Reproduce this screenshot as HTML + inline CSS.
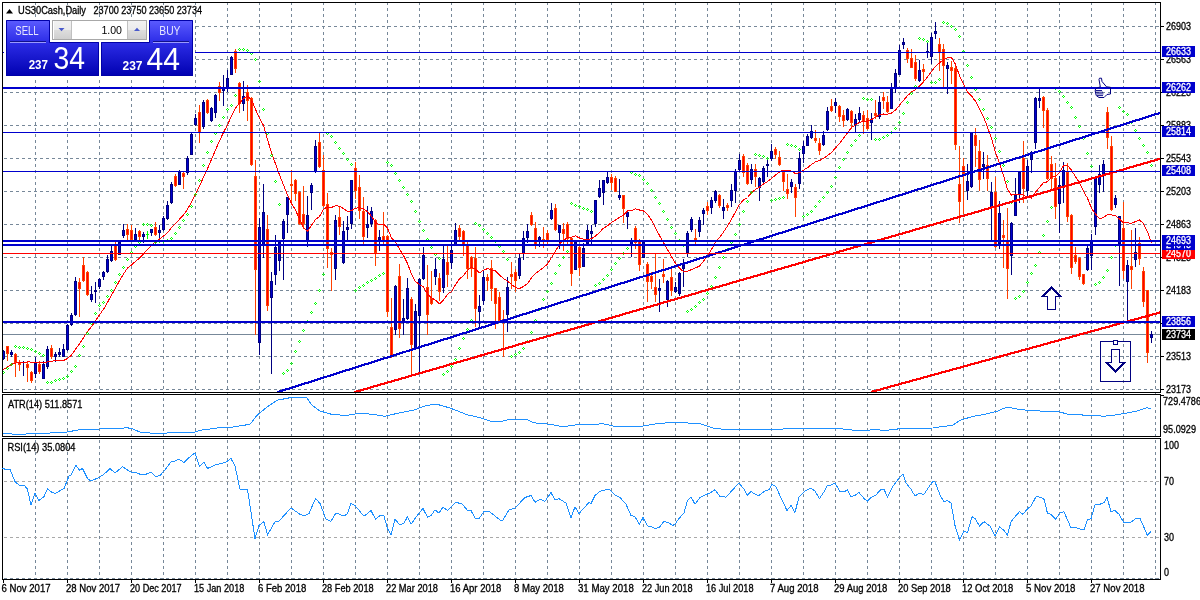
<!DOCTYPE html>
<html><head><meta charset="utf-8"><title>US30Cash,Daily</title>
<style>
html,body{margin:0;padding:0;background:#fff;width:1200px;height:600px;overflow:hidden}
.wrap{position:relative;width:1200px;height:600px}
svg.main{position:absolute;left:0;top:0}
svg.ov{position:absolute;left:0;top:0}
</style></head><body><div class="wrap">
<svg class="main" width="1200" height="600" viewBox="0 0 1200 600" shape-rendering="crispEdges">
<rect x="0" y="0" width="1200" height="600" fill="#fff"/>
<line x1="35.5" y1="2" x2="35.5" y2="579" stroke="#778899" stroke-width="1" stroke-dasharray="3 3"/>
<line x1="67.5" y1="2" x2="67.5" y2="579" stroke="#778899" stroke-width="1" stroke-dasharray="3 3"/>
<line x1="99.5" y1="2" x2="99.5" y2="579" stroke="#778899" stroke-width="1" stroke-dasharray="3 3"/>
<line x1="131.5" y1="2" x2="131.5" y2="579" stroke="#778899" stroke-width="1" stroke-dasharray="3 3"/>
<line x1="163.5" y1="2" x2="163.5" y2="579" stroke="#778899" stroke-width="1" stroke-dasharray="3 3"/>
<line x1="195.5" y1="2" x2="195.5" y2="579" stroke="#778899" stroke-width="1" stroke-dasharray="3 3"/>
<line x1="227.5" y1="2" x2="227.5" y2="579" stroke="#778899" stroke-width="1" stroke-dasharray="3 3"/>
<line x1="259.5" y1="2" x2="259.5" y2="579" stroke="#778899" stroke-width="1" stroke-dasharray="3 3"/>
<line x1="291.5" y1="2" x2="291.5" y2="579" stroke="#778899" stroke-width="1" stroke-dasharray="3 3"/>
<line x1="323.5" y1="2" x2="323.5" y2="579" stroke="#778899" stroke-width="1" stroke-dasharray="3 3"/>
<line x1="355.5" y1="2" x2="355.5" y2="579" stroke="#778899" stroke-width="1" stroke-dasharray="3 3"/>
<line x1="387.5" y1="2" x2="387.5" y2="579" stroke="#778899" stroke-width="1" stroke-dasharray="3 3"/>
<line x1="419.5" y1="2" x2="419.5" y2="579" stroke="#778899" stroke-width="1" stroke-dasharray="3 3"/>
<line x1="451.5" y1="2" x2="451.5" y2="579" stroke="#778899" stroke-width="1" stroke-dasharray="3 3"/>
<line x1="483.5" y1="2" x2="483.5" y2="579" stroke="#778899" stroke-width="1" stroke-dasharray="3 3"/>
<line x1="515.5" y1="2" x2="515.5" y2="579" stroke="#778899" stroke-width="1" stroke-dasharray="3 3"/>
<line x1="547.5" y1="2" x2="547.5" y2="579" stroke="#778899" stroke-width="1" stroke-dasharray="3 3"/>
<line x1="579.5" y1="2" x2="579.5" y2="579" stroke="#778899" stroke-width="1" stroke-dasharray="3 3"/>
<line x1="611.5" y1="2" x2="611.5" y2="579" stroke="#778899" stroke-width="1" stroke-dasharray="3 3"/>
<line x1="643.5" y1="2" x2="643.5" y2="579" stroke="#778899" stroke-width="1" stroke-dasharray="3 3"/>
<line x1="675.5" y1="2" x2="675.5" y2="579" stroke="#778899" stroke-width="1" stroke-dasharray="3 3"/>
<line x1="707.5" y1="2" x2="707.5" y2="579" stroke="#778899" stroke-width="1" stroke-dasharray="3 3"/>
<line x1="739.5" y1="2" x2="739.5" y2="579" stroke="#778899" stroke-width="1" stroke-dasharray="3 3"/>
<line x1="771.5" y1="2" x2="771.5" y2="579" stroke="#778899" stroke-width="1" stroke-dasharray="3 3"/>
<line x1="803.5" y1="2" x2="803.5" y2="579" stroke="#778899" stroke-width="1" stroke-dasharray="3 3"/>
<line x1="835.5" y1="2" x2="835.5" y2="579" stroke="#778899" stroke-width="1" stroke-dasharray="3 3"/>
<line x1="867.5" y1="2" x2="867.5" y2="579" stroke="#778899" stroke-width="1" stroke-dasharray="3 3"/>
<line x1="899.5" y1="2" x2="899.5" y2="579" stroke="#778899" stroke-width="1" stroke-dasharray="3 3"/>
<line x1="931.5" y1="2" x2="931.5" y2="579" stroke="#778899" stroke-width="1" stroke-dasharray="3 3"/>
<line x1="963.5" y1="2" x2="963.5" y2="579" stroke="#778899" stroke-width="1" stroke-dasharray="3 3"/>
<line x1="995.5" y1="2" x2="995.5" y2="579" stroke="#778899" stroke-width="1" stroke-dasharray="3 3"/>
<line x1="1027.5" y1="2" x2="1027.5" y2="579" stroke="#778899" stroke-width="1" stroke-dasharray="3 3"/>
<line x1="1059.5" y1="2" x2="1059.5" y2="579" stroke="#778899" stroke-width="1" stroke-dasharray="3 3"/>
<line x1="1091.5" y1="2" x2="1091.5" y2="579" stroke="#778899" stroke-width="1" stroke-dasharray="3 3"/>
<line x1="1123.5" y1="2" x2="1123.5" y2="579" stroke="#778899" stroke-width="1" stroke-dasharray="3 3"/>
<line x1="1155.5" y1="2" x2="1155.5" y2="579" stroke="#778899" stroke-width="1" stroke-dasharray="3 3"/>
<line x1="4" y1="26.5" x2="1160" y2="26.5" stroke="#778899" stroke-width="1" stroke-dasharray="3 3"/>
<line x1="4" y1="59.5" x2="1160" y2="59.5" stroke="#778899" stroke-width="1" stroke-dasharray="3 3"/>
<line x1="4" y1="92.5" x2="1160" y2="92.5" stroke="#778899" stroke-width="1" stroke-dasharray="3 3"/>
<line x1="4" y1="125.5" x2="1160" y2="125.5" stroke="#778899" stroke-width="1" stroke-dasharray="3 3"/>
<line x1="4" y1="158.5" x2="1160" y2="158.5" stroke="#778899" stroke-width="1" stroke-dasharray="3 3"/>
<line x1="4" y1="191.5" x2="1160" y2="191.5" stroke="#778899" stroke-width="1" stroke-dasharray="3 3"/>
<line x1="4" y1="224.5" x2="1160" y2="224.5" stroke="#778899" stroke-width="1" stroke-dasharray="3 3"/>
<line x1="4" y1="257.5" x2="1160" y2="257.5" stroke="#778899" stroke-width="1" stroke-dasharray="3 3"/>
<line x1="4" y1="290.5" x2="1160" y2="290.5" stroke="#778899" stroke-width="1" stroke-dasharray="3 3"/>
<line x1="4" y1="323.5" x2="1160" y2="323.5" stroke="#778899" stroke-width="1" stroke-dasharray="3 3"/>
<line x1="4" y1="356.5" x2="1160" y2="356.5" stroke="#778899" stroke-width="1" stroke-dasharray="3 3"/>
<line x1="4" y1="389.5" x2="1160" y2="389.5" stroke="#778899" stroke-width="1" stroke-dasharray="3 3"/>
<line x1="4" y1="578.5" x2="1160" y2="578.5" stroke="#778899" stroke-width="1" stroke-dasharray="3 3"/>
<rect x="3" y="334" width="1157" height="1" fill="#778899"/>
<rect x="3" y="350" width="1" height="10" fill="#000080"/>
<rect x="2" y="351" width="3" height="8" fill="#000080"/>
<rect x="3" y="352" width="1" height="6" fill="#0000CD"/>
<rect x="7" y="346" width="1" height="15" fill="#FF4000"/>
<rect x="6" y="346" width="3" height="8" fill="#FF4000"/>
<rect x="7" y="347" width="1" height="6" fill="#FF0000"/>
<rect x="11" y="350" width="1" height="7" fill="#000080"/>
<rect x="10" y="352" width="3" height="3" fill="#000080"/>
<rect x="11" y="353" width="1" height="1" fill="#0000CD"/>
<rect x="15" y="353" width="1" height="24" fill="#FF4000"/>
<rect x="14" y="354" width="3" height="9" fill="#FF4000"/>
<rect x="15" y="355" width="1" height="7" fill="#FF0000"/>
<rect x="19" y="360" width="1" height="11" fill="#FF4000"/>
<rect x="18" y="362" width="3" height="3" fill="#FF4000"/>
<rect x="19" y="363" width="1" height="1" fill="#FF0000"/>
<rect x="23" y="361" width="1" height="15" fill="#000080"/>
<rect x="22" y="362" width="3" height="1" fill="#000080"/>
<rect x="27" y="361" width="1" height="21" fill="#FF4000"/>
<rect x="26" y="364" width="3" height="4" fill="#FF4000"/>
<rect x="27" y="365" width="1" height="2" fill="#FF0000"/>
<rect x="31" y="371" width="1" height="12" fill="#FF4000"/>
<rect x="30" y="372" width="3" height="9" fill="#FF4000"/>
<rect x="31" y="373" width="1" height="7" fill="#FF0000"/>
<rect x="35" y="357" width="1" height="21" fill="#000080"/>
<rect x="34" y="363" width="3" height="11" fill="#000080"/>
<rect x="35" y="364" width="1" height="9" fill="#0000CD"/>
<rect x="39" y="361" width="1" height="13" fill="#FF4000"/>
<rect x="38" y="364" width="3" height="8" fill="#FF4000"/>
<rect x="39" y="365" width="1" height="6" fill="#FF0000"/>
<rect x="43" y="361" width="1" height="18" fill="#000080"/>
<rect x="42" y="364" width="3" height="15" fill="#000080"/>
<rect x="43" y="365" width="1" height="13" fill="#0000CD"/>
<rect x="47" y="346" width="1" height="23" fill="#000080"/>
<rect x="46" y="349" width="3" height="18" fill="#000080"/>
<rect x="47" y="350" width="1" height="16" fill="#0000CD"/>
<rect x="51" y="345" width="1" height="14" fill="#FF4000"/>
<rect x="50" y="348" width="3" height="9" fill="#FF4000"/>
<rect x="51" y="349" width="1" height="7" fill="#FF0000"/>
<rect x="55" y="352" width="1" height="10" fill="#000080"/>
<rect x="54" y="354" width="3" height="3" fill="#000080"/>
<rect x="55" y="355" width="1" height="1" fill="#0000CD"/>
<rect x="59" y="348" width="1" height="9" fill="#000080"/>
<rect x="58" y="352" width="3" height="3" fill="#000080"/>
<rect x="59" y="353" width="1" height="1" fill="#0000CD"/>
<rect x="63" y="344" width="1" height="13" fill="#000080"/>
<rect x="62" y="349" width="3" height="8" fill="#000080"/>
<rect x="63" y="350" width="1" height="6" fill="#0000CD"/>
<rect x="67" y="324" width="1" height="27" fill="#000080"/>
<rect x="66" y="325" width="3" height="25" fill="#000080"/>
<rect x="67" y="326" width="1" height="23" fill="#0000CD"/>
<rect x="71" y="313" width="1" height="13" fill="#000080"/>
<rect x="70" y="315" width="3" height="10" fill="#000080"/>
<rect x="71" y="316" width="1" height="8" fill="#0000CD"/>
<rect x="75" y="277" width="1" height="39" fill="#000080"/>
<rect x="74" y="281" width="3" height="34" fill="#000080"/>
<rect x="75" y="282" width="1" height="32" fill="#0000CD"/>
<rect x="79" y="278" width="1" height="39" fill="#FF4000"/>
<rect x="78" y="282" width="3" height="7" fill="#FF4000"/>
<rect x="79" y="283" width="1" height="5" fill="#FF0000"/>
<rect x="83" y="257" width="1" height="25" fill="#FF4000"/>
<rect x="82" y="265" width="3" height="16" fill="#FF4000"/>
<rect x="83" y="266" width="1" height="14" fill="#FF0000"/>
<rect x="87" y="271" width="1" height="25" fill="#FF4000"/>
<rect x="86" y="272" width="3" height="23" fill="#FF4000"/>
<rect x="87" y="273" width="1" height="21" fill="#FF0000"/>
<rect x="91" y="286" width="1" height="16" fill="#000080"/>
<rect x="90" y="294" width="3" height="6" fill="#000080"/>
<rect x="91" y="295" width="1" height="4" fill="#0000CD"/>
<rect x="95" y="282" width="1" height="21" fill="#000080"/>
<rect x="94" y="290" width="3" height="2" fill="#000080"/>
<rect x="99" y="278" width="1" height="11" fill="#000080"/>
<rect x="98" y="279" width="3" height="8" fill="#000080"/>
<rect x="99" y="280" width="1" height="6" fill="#0000CD"/>
<rect x="103" y="271" width="1" height="9" fill="#000080"/>
<rect x="102" y="272" width="3" height="5" fill="#000080"/>
<rect x="103" y="273" width="1" height="3" fill="#0000CD"/>
<rect x="107" y="255" width="1" height="18" fill="#000080"/>
<rect x="106" y="259" width="3" height="13" fill="#000080"/>
<rect x="107" y="260" width="1" height="11" fill="#0000CD"/>
<rect x="111" y="245" width="1" height="17" fill="#000080"/>
<rect x="110" y="251" width="3" height="10" fill="#000080"/>
<rect x="111" y="252" width="1" height="8" fill="#0000CD"/>
<rect x="115" y="242" width="1" height="19" fill="#FF4000"/>
<rect x="114" y="245" width="3" height="15" fill="#FF4000"/>
<rect x="115" y="246" width="1" height="13" fill="#FF0000"/>
<rect x="119" y="241" width="1" height="14" fill="#000080"/>
<rect x="118" y="242" width="3" height="13" fill="#000080"/>
<rect x="119" y="243" width="1" height="11" fill="#0000CD"/>
<rect x="123" y="224" width="1" height="14" fill="#000080"/>
<rect x="122" y="230" width="3" height="6" fill="#000080"/>
<rect x="123" y="231" width="1" height="4" fill="#0000CD"/>
<rect x="127" y="224" width="1" height="17" fill="#FF4000"/>
<rect x="126" y="229" width="3" height="6" fill="#FF4000"/>
<rect x="127" y="230" width="1" height="4" fill="#FF0000"/>
<rect x="131" y="225" width="1" height="16" fill="#FF4000"/>
<rect x="130" y="230" width="3" height="10" fill="#FF4000"/>
<rect x="131" y="231" width="1" height="8" fill="#FF0000"/>
<rect x="135" y="228" width="1" height="13" fill="#000080"/>
<rect x="134" y="234" width="3" height="6" fill="#000080"/>
<rect x="135" y="235" width="1" height="4" fill="#0000CD"/>
<rect x="139" y="230" width="1" height="10" fill="#FF4000"/>
<rect x="138" y="231" width="3" height="6" fill="#FF4000"/>
<rect x="139" y="232" width="1" height="4" fill="#FF0000"/>
<rect x="143" y="232" width="1" height="11" fill="#000080"/>
<rect x="142" y="234" width="3" height="3" fill="#000080"/>
<rect x="143" y="235" width="1" height="1" fill="#0000CD"/>
<rect x="147" y="231" width="1" height="8" fill="#00FF00"/>
<rect x="146" y="234" width="3" height="1" fill="#00FF00"/>
<rect x="151" y="229" width="1" height="7" fill="#000080"/>
<rect x="150" y="229" width="3" height="4" fill="#000080"/>
<rect x="151" y="230" width="1" height="2" fill="#0000CD"/>
<rect x="155" y="222" width="1" height="14" fill="#FF4000"/>
<rect x="154" y="227" width="3" height="8" fill="#FF4000"/>
<rect x="155" y="228" width="1" height="6" fill="#FF0000"/>
<rect x="159" y="225" width="1" height="16" fill="#000080"/>
<rect x="158" y="230" width="3" height="3" fill="#000080"/>
<rect x="159" y="231" width="1" height="1" fill="#0000CD"/>
<rect x="163" y="216" width="1" height="15" fill="#000080"/>
<rect x="162" y="218" width="3" height="12" fill="#000080"/>
<rect x="163" y="219" width="1" height="10" fill="#0000CD"/>
<rect x="167" y="201" width="1" height="19" fill="#000080"/>
<rect x="166" y="205" width="3" height="14" fill="#000080"/>
<rect x="167" y="206" width="1" height="12" fill="#0000CD"/>
<rect x="171" y="182" width="1" height="22" fill="#000080"/>
<rect x="170" y="184" width="3" height="19" fill="#000080"/>
<rect x="171" y="185" width="1" height="17" fill="#0000CD"/>
<rect x="175" y="174" width="1" height="13" fill="#FF4000"/>
<rect x="174" y="176" width="3" height="10" fill="#FF4000"/>
<rect x="175" y="177" width="1" height="8" fill="#FF0000"/>
<rect x="179" y="170" width="1" height="15" fill="#000080"/>
<rect x="178" y="172" width="3" height="13" fill="#000080"/>
<rect x="179" y="173" width="1" height="11" fill="#0000CD"/>
<rect x="183" y="172" width="1" height="17" fill="#FF4000"/>
<rect x="182" y="173" width="3" height="4" fill="#FF4000"/>
<rect x="183" y="174" width="1" height="2" fill="#FF0000"/>
<rect x="187" y="156" width="1" height="19" fill="#000080"/>
<rect x="186" y="158" width="3" height="15" fill="#000080"/>
<rect x="187" y="159" width="1" height="13" fill="#0000CD"/>
<rect x="191" y="132" width="1" height="23" fill="#000080"/>
<rect x="190" y="134" width="3" height="21" fill="#000080"/>
<rect x="191" y="135" width="1" height="19" fill="#0000CD"/>
<rect x="195" y="114" width="1" height="12" fill="#000080"/>
<rect x="194" y="118" width="3" height="7" fill="#000080"/>
<rect x="195" y="119" width="1" height="5" fill="#0000CD"/>
<rect x="199" y="105" width="1" height="38" fill="#FF4000"/>
<rect x="198" y="112" width="3" height="21" fill="#FF4000"/>
<rect x="199" y="113" width="1" height="19" fill="#FF0000"/>
<rect x="203" y="100" width="1" height="29" fill="#000080"/>
<rect x="202" y="102" width="3" height="25" fill="#000080"/>
<rect x="203" y="103" width="1" height="23" fill="#0000CD"/>
<rect x="207" y="99" width="1" height="15" fill="#FF4000"/>
<rect x="206" y="100" width="3" height="13" fill="#FF4000"/>
<rect x="207" y="101" width="1" height="11" fill="#FF0000"/>
<rect x="211" y="107" width="1" height="15" fill="#000080"/>
<rect x="210" y="108" width="3" height="13" fill="#000080"/>
<rect x="211" y="109" width="1" height="11" fill="#0000CD"/>
<rect x="215" y="94" width="1" height="24" fill="#000080"/>
<rect x="214" y="95" width="3" height="18" fill="#000080"/>
<rect x="215" y="96" width="1" height="16" fill="#0000CD"/>
<rect x="219" y="82" width="1" height="19" fill="#FF4000"/>
<rect x="218" y="86" width="3" height="7" fill="#FF4000"/>
<rect x="219" y="87" width="1" height="5" fill="#FF0000"/>
<rect x="223" y="75" width="1" height="31" fill="#000080"/>
<rect x="222" y="87" width="3" height="4" fill="#000080"/>
<rect x="223" y="88" width="1" height="2" fill="#0000CD"/>
<rect x="227" y="70" width="1" height="22" fill="#000080"/>
<rect x="226" y="78" width="3" height="11" fill="#000080"/>
<rect x="227" y="79" width="1" height="9" fill="#0000CD"/>
<rect x="231" y="56" width="1" height="19" fill="#000080"/>
<rect x="230" y="57" width="3" height="18" fill="#000080"/>
<rect x="231" y="58" width="1" height="16" fill="#0000CD"/>
<rect x="235" y="49" width="1" height="24" fill="#FF4000"/>
<rect x="234" y="51" width="3" height="18" fill="#FF4000"/>
<rect x="235" y="52" width="1" height="16" fill="#FF0000"/>
<rect x="239" y="82" width="1" height="31" fill="#FF4000"/>
<rect x="238" y="83" width="3" height="21" fill="#FF4000"/>
<rect x="239" y="84" width="1" height="19" fill="#FF0000"/>
<rect x="243" y="81" width="1" height="30" fill="#000080"/>
<rect x="242" y="96" width="3" height="8" fill="#000080"/>
<rect x="243" y="97" width="1" height="6" fill="#0000CD"/>
<rect x="247" y="85" width="1" height="36" fill="#FF4000"/>
<rect x="246" y="92" width="3" height="9" fill="#FF4000"/>
<rect x="247" y="93" width="1" height="7" fill="#FF0000"/>
<rect x="251" y="97" width="1" height="69" fill="#FF4000"/>
<rect x="250" y="98" width="3" height="67" fill="#FF4000"/>
<rect x="251" y="99" width="1" height="65" fill="#FF0000"/>
<rect x="255" y="160" width="1" height="175" fill="#FF4000"/>
<rect x="254" y="176" width="3" height="94" fill="#FF4000"/>
<rect x="255" y="177" width="1" height="92" fill="#FF0000"/>
<rect x="259" y="218" width="1" height="137" fill="#000080"/>
<rect x="258" y="227" width="3" height="116" fill="#000080"/>
<rect x="259" y="228" width="1" height="114" fill="#0000CD"/>
<rect x="263" y="184" width="1" height="74" fill="#000080"/>
<rect x="262" y="212" width="3" height="33" fill="#000080"/>
<rect x="263" y="213" width="1" height="31" fill="#0000CD"/>
<rect x="267" y="215" width="1" height="96" fill="#FF4000"/>
<rect x="266" y="229" width="3" height="77" fill="#FF4000"/>
<rect x="267" y="230" width="1" height="75" fill="#FF0000"/>
<rect x="271" y="272" width="1" height="102" fill="#000080"/>
<rect x="270" y="281" width="3" height="17" fill="#000080"/>
<rect x="271" y="282" width="1" height="15" fill="#0000CD"/>
<rect x="275" y="235" width="1" height="50" fill="#000080"/>
<rect x="274" y="247" width="3" height="28" fill="#000080"/>
<rect x="275" y="248" width="1" height="26" fill="#0000CD"/>
<rect x="279" y="242" width="1" height="29" fill="#000080"/>
<rect x="278" y="242" width="3" height="19" fill="#000080"/>
<rect x="279" y="243" width="1" height="17" fill="#0000CD"/>
<rect x="283" y="219" width="1" height="61" fill="#000080"/>
<rect x="282" y="221" width="3" height="18" fill="#000080"/>
<rect x="283" y="222" width="1" height="16" fill="#0000CD"/>
<rect x="287" y="197" width="1" height="36" fill="#000080"/>
<rect x="286" y="197" width="3" height="18" fill="#000080"/>
<rect x="287" y="198" width="1" height="16" fill="#0000CD"/>
<rect x="291" y="170" width="1" height="35" fill="#FF4000"/>
<rect x="290" y="184" width="3" height="2" fill="#FF4000"/>
<rect x="295" y="179" width="1" height="22" fill="#FF4000"/>
<rect x="294" y="180" width="3" height="14" fill="#FF4000"/>
<rect x="295" y="181" width="1" height="12" fill="#FF0000"/>
<rect x="299" y="191" width="1" height="34" fill="#FF4000"/>
<rect x="298" y="192" width="3" height="32" fill="#FF4000"/>
<rect x="299" y="193" width="1" height="30" fill="#FF0000"/>
<rect x="303" y="186" width="1" height="43" fill="#FF4000"/>
<rect x="302" y="214" width="3" height="10" fill="#FF4000"/>
<rect x="303" y="215" width="1" height="8" fill="#FF0000"/>
<rect x="307" y="196" width="1" height="51" fill="#000080"/>
<rect x="306" y="215" width="3" height="26" fill="#000080"/>
<rect x="307" y="216" width="1" height="24" fill="#0000CD"/>
<rect x="311" y="183" width="1" height="27" fill="#000080"/>
<rect x="310" y="185" width="3" height="8" fill="#000080"/>
<rect x="311" y="186" width="1" height="6" fill="#0000CD"/>
<rect x="315" y="140" width="1" height="33" fill="#000080"/>
<rect x="314" y="146" width="3" height="26" fill="#000080"/>
<rect x="315" y="147" width="1" height="24" fill="#0000CD"/>
<rect x="319" y="133" width="1" height="35" fill="#FF4000"/>
<rect x="318" y="142" width="3" height="25" fill="#FF4000"/>
<rect x="319" y="143" width="1" height="23" fill="#FF0000"/>
<rect x="323" y="155" width="1" height="52" fill="#FF4000"/>
<rect x="322" y="170" width="3" height="36" fill="#FF4000"/>
<rect x="323" y="171" width="1" height="34" fill="#FF0000"/>
<rect x="327" y="193" width="1" height="75" fill="#FF4000"/>
<rect x="326" y="204" width="3" height="45" fill="#FF4000"/>
<rect x="327" y="205" width="1" height="43" fill="#FF0000"/>
<rect x="331" y="248" width="1" height="43" fill="#FF4000"/>
<rect x="330" y="252" width="3" height="3" fill="#FF4000"/>
<rect x="331" y="253" width="1" height="1" fill="#FF0000"/>
<rect x="335" y="215" width="1" height="65" fill="#000080"/>
<rect x="334" y="220" width="3" height="49" fill="#000080"/>
<rect x="335" y="221" width="1" height="47" fill="#0000CD"/>
<rect x="339" y="206" width="1" height="29" fill="#FF4000"/>
<rect x="338" y="217" width="3" height="10" fill="#FF4000"/>
<rect x="339" y="218" width="1" height="8" fill="#FF0000"/>
<rect x="343" y="221" width="1" height="43" fill="#000080"/>
<rect x="342" y="231" width="3" height="32" fill="#000080"/>
<rect x="343" y="232" width="1" height="30" fill="#0000CD"/>
<rect x="347" y="216" width="1" height="25" fill="#000080"/>
<rect x="346" y="227" width="3" height="3" fill="#000080"/>
<rect x="347" y="228" width="1" height="1" fill="#0000CD"/>
<rect x="351" y="180" width="1" height="49" fill="#000080"/>
<rect x="350" y="180" width="3" height="44" fill="#000080"/>
<rect x="351" y="181" width="1" height="42" fill="#0000CD"/>
<rect x="355" y="162" width="1" height="37" fill="#FF4000"/>
<rect x="354" y="168" width="3" height="23" fill="#FF4000"/>
<rect x="355" y="169" width="1" height="21" fill="#FF0000"/>
<rect x="359" y="175" width="1" height="44" fill="#FF4000"/>
<rect x="358" y="187" width="3" height="24" fill="#FF4000"/>
<rect x="359" y="188" width="1" height="22" fill="#FF0000"/>
<rect x="363" y="197" width="1" height="47" fill="#FF4000"/>
<rect x="362" y="211" width="3" height="26" fill="#FF4000"/>
<rect x="363" y="212" width="1" height="24" fill="#FF0000"/>
<rect x="367" y="206" width="1" height="32" fill="#000080"/>
<rect x="366" y="224" width="3" height="4" fill="#000080"/>
<rect x="367" y="225" width="1" height="2" fill="#0000CD"/>
<rect x="371" y="207" width="1" height="20" fill="#000080"/>
<rect x="370" y="211" width="3" height="13" fill="#000080"/>
<rect x="371" y="212" width="1" height="11" fill="#0000CD"/>
<rect x="375" y="219" width="1" height="47" fill="#FF4000"/>
<rect x="374" y="220" width="3" height="33" fill="#FF4000"/>
<rect x="375" y="221" width="1" height="31" fill="#FF0000"/>
<rect x="379" y="230" width="1" height="21" fill="#000080"/>
<rect x="378" y="237" width="3" height="3" fill="#000080"/>
<rect x="379" y="238" width="1" height="1" fill="#0000CD"/>
<rect x="383" y="212" width="1" height="32" fill="#FF4000"/>
<rect x="382" y="236" width="3" height="5" fill="#FF4000"/>
<rect x="383" y="237" width="1" height="3" fill="#FF0000"/>
<rect x="387" y="235" width="1" height="82" fill="#FF4000"/>
<rect x="386" y="236" width="3" height="76" fill="#FF4000"/>
<rect x="387" y="237" width="1" height="74" fill="#FF0000"/>
<rect x="391" y="298" width="1" height="60" fill="#FF4000"/>
<rect x="390" y="327" width="3" height="30" fill="#FF4000"/>
<rect x="391" y="328" width="1" height="28" fill="#FF0000"/>
<rect x="395" y="285" width="1" height="50" fill="#000080"/>
<rect x="394" y="286" width="3" height="44" fill="#000080"/>
<rect x="395" y="287" width="1" height="42" fill="#0000CD"/>
<rect x="399" y="264" width="1" height="74" fill="#FF4000"/>
<rect x="398" y="276" width="3" height="53" fill="#FF4000"/>
<rect x="399" y="277" width="1" height="51" fill="#FF0000"/>
<rect x="403" y="299" width="1" height="36" fill="#000080"/>
<rect x="402" y="318" width="3" height="3" fill="#000080"/>
<rect x="403" y="319" width="1" height="1" fill="#0000CD"/>
<rect x="407" y="278" width="1" height="42" fill="#000080"/>
<rect x="406" y="288" width="3" height="31" fill="#000080"/>
<rect x="407" y="289" width="1" height="29" fill="#0000CD"/>
<rect x="411" y="297" width="1" height="78" fill="#FF4000"/>
<rect x="410" y="299" width="3" height="46" fill="#FF4000"/>
<rect x="411" y="300" width="1" height="44" fill="#FF0000"/>
<rect x="415" y="304" width="1" height="45" fill="#000080"/>
<rect x="414" y="311" width="3" height="38" fill="#000080"/>
<rect x="415" y="312" width="1" height="36" fill="#0000CD"/>
<rect x="419" y="278" width="1" height="96" fill="#000080"/>
<rect x="418" y="279" width="3" height="37" fill="#000080"/>
<rect x="419" y="280" width="1" height="35" fill="#0000CD"/>
<rect x="423" y="247" width="1" height="33" fill="#000080"/>
<rect x="422" y="255" width="3" height="24" fill="#000080"/>
<rect x="423" y="256" width="1" height="22" fill="#0000CD"/>
<rect x="427" y="265" width="1" height="70" fill="#FF4000"/>
<rect x="426" y="287" width="3" height="28" fill="#FF4000"/>
<rect x="427" y="288" width="1" height="26" fill="#FF0000"/>
<rect x="431" y="271" width="1" height="34" fill="#FF4000"/>
<rect x="430" y="298" width="3" height="6" fill="#FF4000"/>
<rect x="431" y="299" width="1" height="4" fill="#FF0000"/>
<rect x="435" y="258" width="1" height="27" fill="#000080"/>
<rect x="434" y="269" width="3" height="8" fill="#000080"/>
<rect x="435" y="270" width="1" height="6" fill="#0000CD"/>
<rect x="439" y="273" width="1" height="28" fill="#FF4000"/>
<rect x="438" y="278" width="3" height="14" fill="#FF4000"/>
<rect x="439" y="279" width="1" height="12" fill="#FF0000"/>
<rect x="443" y="246" width="1" height="47" fill="#000080"/>
<rect x="442" y="259" width="3" height="29" fill="#000080"/>
<rect x="443" y="260" width="1" height="27" fill="#0000CD"/>
<rect x="447" y="245" width="1" height="42" fill="#FF4000"/>
<rect x="446" y="262" width="3" height="13" fill="#FF4000"/>
<rect x="447" y="263" width="1" height="11" fill="#FF0000"/>
<rect x="451" y="241" width="1" height="28" fill="#000080"/>
<rect x="450" y="250" width="3" height="13" fill="#000080"/>
<rect x="451" y="251" width="1" height="11" fill="#0000CD"/>
<rect x="455" y="223" width="1" height="22" fill="#000080"/>
<rect x="454" y="230" width="3" height="15" fill="#000080"/>
<rect x="455" y="231" width="1" height="13" fill="#0000CD"/>
<rect x="459" y="225" width="1" height="16" fill="#FF4000"/>
<rect x="458" y="228" width="3" height="9" fill="#FF4000"/>
<rect x="459" y="229" width="1" height="7" fill="#FF0000"/>
<rect x="463" y="230" width="1" height="26" fill="#FF4000"/>
<rect x="462" y="231" width="3" height="14" fill="#FF4000"/>
<rect x="463" y="232" width="1" height="12" fill="#FF0000"/>
<rect x="467" y="240" width="1" height="39" fill="#FF4000"/>
<rect x="466" y="244" width="3" height="25" fill="#FF4000"/>
<rect x="467" y="245" width="1" height="23" fill="#FF0000"/>
<rect x="471" y="256" width="1" height="21" fill="#FF4000"/>
<rect x="470" y="257" width="3" height="12" fill="#FF4000"/>
<rect x="471" y="258" width="1" height="10" fill="#FF0000"/>
<rect x="475" y="247" width="1" height="80" fill="#FF4000"/>
<rect x="474" y="258" width="3" height="51" fill="#FF4000"/>
<rect x="475" y="259" width="1" height="49" fill="#FF0000"/>
<rect x="479" y="295" width="1" height="33" fill="#000080"/>
<rect x="478" y="306" width="3" height="6" fill="#000080"/>
<rect x="479" y="307" width="1" height="4" fill="#0000CD"/>
<rect x="483" y="271" width="1" height="34" fill="#000080"/>
<rect x="482" y="277" width="3" height="24" fill="#000080"/>
<rect x="483" y="278" width="1" height="22" fill="#0000CD"/>
<rect x="487" y="274" width="1" height="17" fill="#FF4000"/>
<rect x="486" y="277" width="3" height="4" fill="#FF4000"/>
<rect x="487" y="278" width="1" height="2" fill="#FF0000"/>
<rect x="491" y="260" width="1" height="41" fill="#FF4000"/>
<rect x="490" y="268" width="3" height="21" fill="#FF4000"/>
<rect x="491" y="269" width="1" height="19" fill="#FF0000"/>
<rect x="495" y="288" width="1" height="41" fill="#FF4000"/>
<rect x="494" y="288" width="3" height="16" fill="#FF4000"/>
<rect x="495" y="289" width="1" height="14" fill="#FF0000"/>
<rect x="499" y="292" width="1" height="31" fill="#FF4000"/>
<rect x="498" y="297" width="3" height="24" fill="#FF4000"/>
<rect x="499" y="298" width="1" height="22" fill="#FF0000"/>
<rect x="503" y="310" width="1" height="47" fill="#FF4000"/>
<rect x="502" y="319" width="3" height="3" fill="#FF4000"/>
<rect x="503" y="320" width="1" height="1" fill="#FF0000"/>
<rect x="507" y="277" width="1" height="55" fill="#000080"/>
<rect x="506" y="287" width="3" height="28" fill="#000080"/>
<rect x="507" y="288" width="1" height="26" fill="#0000CD"/>
<rect x="511" y="262" width="1" height="27" fill="#FF4000"/>
<rect x="510" y="274" width="3" height="3" fill="#FF4000"/>
<rect x="511" y="275" width="1" height="1" fill="#FF0000"/>
<rect x="515" y="269" width="1" height="23" fill="#FF4000"/>
<rect x="514" y="272" width="3" height="9" fill="#FF4000"/>
<rect x="515" y="273" width="1" height="7" fill="#FF0000"/>
<rect x="519" y="254" width="1" height="25" fill="#000080"/>
<rect x="518" y="258" width="3" height="18" fill="#000080"/>
<rect x="519" y="259" width="1" height="16" fill="#0000CD"/>
<rect x="523" y="231" width="1" height="29" fill="#000080"/>
<rect x="522" y="238" width="3" height="16" fill="#000080"/>
<rect x="523" y="239" width="1" height="14" fill="#0000CD"/>
<rect x="527" y="224" width="1" height="19" fill="#000080"/>
<rect x="526" y="231" width="3" height="7" fill="#000080"/>
<rect x="527" y="232" width="1" height="5" fill="#0000CD"/>
<rect x="531" y="212" width="1" height="14" fill="#FF4000"/>
<rect x="530" y="215" width="3" height="10" fill="#FF4000"/>
<rect x="531" y="216" width="1" height="8" fill="#FF0000"/>
<rect x="535" y="222" width="1" height="27" fill="#FF4000"/>
<rect x="534" y="228" width="3" height="17" fill="#FF4000"/>
<rect x="535" y="229" width="1" height="15" fill="#FF0000"/>
<rect x="539" y="236" width="1" height="11" fill="#000080"/>
<rect x="538" y="237" width="3" height="5" fill="#000080"/>
<rect x="539" y="238" width="1" height="3" fill="#0000CD"/>
<rect x="543" y="227" width="1" height="21" fill="#FF4000"/>
<rect x="542" y="239" width="3" height="2" fill="#FF4000"/>
<rect x="547" y="230" width="1" height="15" fill="#FF4000"/>
<rect x="546" y="233" width="3" height="7" fill="#FF4000"/>
<rect x="547" y="234" width="1" height="5" fill="#FF0000"/>
<rect x="551" y="203" width="1" height="17" fill="#000080"/>
<rect x="550" y="210" width="3" height="9" fill="#000080"/>
<rect x="551" y="211" width="1" height="7" fill="#0000CD"/>
<rect x="555" y="204" width="1" height="27" fill="#FF4000"/>
<rect x="554" y="208" width="3" height="22" fill="#FF4000"/>
<rect x="555" y="209" width="1" height="20" fill="#FF0000"/>
<rect x="559" y="225" width="1" height="24" fill="#000080"/>
<rect x="558" y="225" width="3" height="8" fill="#000080"/>
<rect x="559" y="226" width="1" height="6" fill="#0000CD"/>
<rect x="563" y="223" width="1" height="28" fill="#FF4000"/>
<rect x="562" y="229" width="3" height="5" fill="#FF4000"/>
<rect x="563" y="230" width="1" height="3" fill="#FF0000"/>
<rect x="567" y="222" width="1" height="23" fill="#FF4000"/>
<rect x="566" y="224" width="3" height="15" fill="#FF4000"/>
<rect x="567" y="225" width="1" height="13" fill="#FF0000"/>
<rect x="571" y="237" width="1" height="49" fill="#FF4000"/>
<rect x="570" y="238" width="3" height="36" fill="#FF4000"/>
<rect x="571" y="239" width="1" height="34" fill="#FF0000"/>
<rect x="575" y="240" width="1" height="30" fill="#000080"/>
<rect x="574" y="242" width="3" height="28" fill="#000080"/>
<rect x="575" y="243" width="1" height="26" fill="#0000CD"/>
<rect x="579" y="246" width="1" height="30" fill="#FF4000"/>
<rect x="578" y="247" width="3" height="21" fill="#FF4000"/>
<rect x="579" y="248" width="1" height="19" fill="#FF0000"/>
<rect x="583" y="243" width="1" height="24" fill="#000080"/>
<rect x="582" y="248" width="3" height="19" fill="#000080"/>
<rect x="583" y="249" width="1" height="17" fill="#0000CD"/>
<rect x="587" y="225" width="1" height="20" fill="#000080"/>
<rect x="586" y="230" width="3" height="14" fill="#000080"/>
<rect x="587" y="231" width="1" height="12" fill="#0000CD"/>
<rect x="591" y="225" width="1" height="20" fill="#000080"/>
<rect x="590" y="231" width="3" height="3" fill="#000080"/>
<rect x="591" y="232" width="1" height="1" fill="#0000CD"/>
<rect x="595" y="200" width="1" height="27" fill="#000080"/>
<rect x="594" y="200" width="3" height="24" fill="#000080"/>
<rect x="595" y="201" width="1" height="22" fill="#0000CD"/>
<rect x="599" y="180" width="1" height="18" fill="#000080"/>
<rect x="598" y="188" width="3" height="9" fill="#000080"/>
<rect x="599" y="189" width="1" height="7" fill="#0000CD"/>
<rect x="603" y="180" width="1" height="25" fill="#000080"/>
<rect x="602" y="180" width="3" height="13" fill="#000080"/>
<rect x="603" y="181" width="1" height="11" fill="#0000CD"/>
<rect x="607" y="172" width="1" height="12" fill="#000080"/>
<rect x="606" y="177" width="3" height="6" fill="#000080"/>
<rect x="607" y="178" width="1" height="4" fill="#0000CD"/>
<rect x="611" y="174" width="1" height="16" fill="#FF4000"/>
<rect x="610" y="177" width="3" height="6" fill="#FF4000"/>
<rect x="611" y="178" width="1" height="4" fill="#FF0000"/>
<rect x="615" y="176" width="1" height="16" fill="#FF4000"/>
<rect x="614" y="178" width="3" height="14" fill="#FF4000"/>
<rect x="615" y="179" width="1" height="12" fill="#FF0000"/>
<rect x="619" y="179" width="1" height="21" fill="#000080"/>
<rect x="618" y="195" width="3" height="3" fill="#000080"/>
<rect x="619" y="196" width="1" height="1" fill="#0000CD"/>
<rect x="623" y="195" width="1" height="28" fill="#FF4000"/>
<rect x="622" y="195" width="3" height="14" fill="#FF4000"/>
<rect x="623" y="196" width="1" height="12" fill="#FF0000"/>
<rect x="627" y="211" width="1" height="18" fill="#000080"/>
<rect x="626" y="212" width="3" height="5" fill="#000080"/>
<rect x="627" y="213" width="1" height="3" fill="#0000CD"/>
<rect x="631" y="238" width="1" height="19" fill="#000080"/>
<rect x="630" y="240" width="3" height="5" fill="#000080"/>
<rect x="631" y="241" width="1" height="3" fill="#0000CD"/>
<rect x="635" y="226" width="1" height="23" fill="#FF4000"/>
<rect x="634" y="228" width="3" height="15" fill="#FF4000"/>
<rect x="635" y="229" width="1" height="13" fill="#FF0000"/>
<rect x="639" y="239" width="1" height="32" fill="#FF4000"/>
<rect x="638" y="240" width="3" height="25" fill="#FF4000"/>
<rect x="639" y="241" width="1" height="23" fill="#FF0000"/>
<rect x="643" y="241" width="1" height="17" fill="#000080"/>
<rect x="642" y="242" width="3" height="16" fill="#000080"/>
<rect x="643" y="243" width="1" height="14" fill="#0000CD"/>
<rect x="647" y="262" width="1" height="40" fill="#FF4000"/>
<rect x="646" y="264" width="3" height="18" fill="#FF4000"/>
<rect x="647" y="265" width="1" height="16" fill="#FF0000"/>
<rect x="651" y="272" width="1" height="17" fill="#FF4000"/>
<rect x="650" y="276" width="3" height="6" fill="#FF4000"/>
<rect x="651" y="277" width="1" height="4" fill="#FF0000"/>
<rect x="655" y="253" width="1" height="49" fill="#FF4000"/>
<rect x="654" y="287" width="3" height="8" fill="#FF4000"/>
<rect x="655" y="288" width="1" height="6" fill="#FF0000"/>
<rect x="659" y="279" width="1" height="33" fill="#000080"/>
<rect x="658" y="288" width="3" height="3" fill="#000080"/>
<rect x="659" y="289" width="1" height="1" fill="#0000CD"/>
<rect x="663" y="259" width="1" height="24" fill="#FF4000"/>
<rect x="662" y="274" width="3" height="3" fill="#FF4000"/>
<rect x="663" y="275" width="1" height="1" fill="#FF0000"/>
<rect x="667" y="280" width="1" height="27" fill="#000080"/>
<rect x="666" y="281" width="3" height="19" fill="#000080"/>
<rect x="667" y="282" width="1" height="17" fill="#0000CD"/>
<rect x="671" y="269" width="1" height="27" fill="#FF4000"/>
<rect x="670" y="277" width="3" height="14" fill="#FF4000"/>
<rect x="671" y="278" width="1" height="12" fill="#FF0000"/>
<rect x="675" y="282" width="1" height="11" fill="#000080"/>
<rect x="674" y="287" width="3" height="5" fill="#000080"/>
<rect x="675" y="288" width="1" height="3" fill="#0000CD"/>
<rect x="679" y="272" width="1" height="24" fill="#000080"/>
<rect x="678" y="273" width="3" height="21" fill="#000080"/>
<rect x="679" y="274" width="1" height="19" fill="#0000CD"/>
<rect x="683" y="259" width="1" height="28" fill="#000080"/>
<rect x="682" y="265" width="3" height="4" fill="#000080"/>
<rect x="683" y="266" width="1" height="2" fill="#0000CD"/>
<rect x="687" y="231" width="1" height="26" fill="#000080"/>
<rect x="686" y="233" width="3" height="20" fill="#000080"/>
<rect x="687" y="234" width="1" height="18" fill="#0000CD"/>
<rect x="691" y="217" width="1" height="15" fill="#000080"/>
<rect x="690" y="219" width="3" height="11" fill="#000080"/>
<rect x="691" y="220" width="1" height="9" fill="#0000CD"/>
<rect x="695" y="229" width="1" height="16" fill="#FF4000"/>
<rect x="694" y="238" width="3" height="2" fill="#FF4000"/>
<rect x="699" y="217" width="1" height="20" fill="#000080"/>
<rect x="698" y="220" width="3" height="12" fill="#000080"/>
<rect x="699" y="221" width="1" height="10" fill="#0000CD"/>
<rect x="703" y="208" width="1" height="17" fill="#000080"/>
<rect x="702" y="210" width="3" height="4" fill="#000080"/>
<rect x="703" y="211" width="1" height="2" fill="#0000CD"/>
<rect x="707" y="202" width="1" height="13" fill="#FF4000"/>
<rect x="706" y="206" width="3" height="5" fill="#FF4000"/>
<rect x="707" y="207" width="1" height="3" fill="#FF0000"/>
<rect x="711" y="197" width="1" height="17" fill="#000080"/>
<rect x="710" y="200" width="3" height="8" fill="#000080"/>
<rect x="711" y="201" width="1" height="6" fill="#0000CD"/>
<rect x="715" y="190" width="1" height="13" fill="#000080"/>
<rect x="714" y="191" width="3" height="10" fill="#000080"/>
<rect x="715" y="192" width="1" height="8" fill="#0000CD"/>
<rect x="719" y="194" width="1" height="14" fill="#FF4000"/>
<rect x="718" y="195" width="3" height="11" fill="#FF4000"/>
<rect x="719" y="196" width="1" height="9" fill="#FF0000"/>
<rect x="723" y="199" width="1" height="20" fill="#000080"/>
<rect x="722" y="207" width="3" height="4" fill="#000080"/>
<rect x="723" y="208" width="1" height="2" fill="#0000CD"/>
<rect x="727" y="203" width="1" height="8" fill="#FF4000"/>
<rect x="726" y="205" width="3" height="3" fill="#FF4000"/>
<rect x="727" y="206" width="1" height="1" fill="#FF0000"/>
<rect x="731" y="184" width="1" height="23" fill="#000080"/>
<rect x="730" y="190" width="3" height="11" fill="#000080"/>
<rect x="731" y="191" width="1" height="9" fill="#0000CD"/>
<rect x="735" y="169" width="1" height="34" fill="#000080"/>
<rect x="734" y="171" width="3" height="20" fill="#000080"/>
<rect x="735" y="172" width="1" height="18" fill="#0000CD"/>
<rect x="739" y="154" width="1" height="18" fill="#000080"/>
<rect x="738" y="160" width="3" height="10" fill="#000080"/>
<rect x="739" y="161" width="1" height="8" fill="#0000CD"/>
<rect x="743" y="154" width="1" height="23" fill="#FF4000"/>
<rect x="742" y="156" width="3" height="17" fill="#FF4000"/>
<rect x="743" y="157" width="1" height="15" fill="#FF0000"/>
<rect x="747" y="163" width="1" height="22" fill="#FF4000"/>
<rect x="746" y="165" width="3" height="19" fill="#FF4000"/>
<rect x="747" y="166" width="1" height="17" fill="#FF0000"/>
<rect x="751" y="164" width="1" height="20" fill="#000080"/>
<rect x="750" y="169" width="3" height="11" fill="#000080"/>
<rect x="751" y="170" width="1" height="9" fill="#0000CD"/>
<rect x="755" y="164" width="1" height="23" fill="#FF4000"/>
<rect x="754" y="169" width="3" height="8" fill="#FF4000"/>
<rect x="755" y="170" width="1" height="6" fill="#FF0000"/>
<rect x="759" y="177" width="1" height="24" fill="#000080"/>
<rect x="758" y="178" width="3" height="10" fill="#000080"/>
<rect x="759" y="179" width="1" height="8" fill="#0000CD"/>
<rect x="763" y="166" width="1" height="19" fill="#000080"/>
<rect x="762" y="168" width="3" height="14" fill="#000080"/>
<rect x="763" y="169" width="1" height="12" fill="#0000CD"/>
<rect x="767" y="160" width="1" height="17" fill="#000080"/>
<rect x="766" y="164" width="3" height="2" fill="#000080"/>
<rect x="771" y="144" width="1" height="17" fill="#000080"/>
<rect x="770" y="151" width="3" height="8" fill="#000080"/>
<rect x="771" y="152" width="1" height="6" fill="#0000CD"/>
<rect x="775" y="147" width="1" height="12" fill="#FF4000"/>
<rect x="774" y="149" width="3" height="6" fill="#FF4000"/>
<rect x="775" y="150" width="1" height="4" fill="#FF0000"/>
<rect x="779" y="151" width="1" height="15" fill="#FF4000"/>
<rect x="778" y="157" width="3" height="8" fill="#FF4000"/>
<rect x="779" y="158" width="1" height="6" fill="#FF0000"/>
<rect x="783" y="170" width="1" height="21" fill="#FF4000"/>
<rect x="782" y="172" width="3" height="10" fill="#FF4000"/>
<rect x="783" y="173" width="1" height="8" fill="#FF0000"/>
<rect x="787" y="174" width="1" height="25" fill="#FF4000"/>
<rect x="786" y="189" width="3" height="5" fill="#FF4000"/>
<rect x="787" y="190" width="1" height="3" fill="#FF0000"/>
<rect x="791" y="179" width="1" height="14" fill="#000080"/>
<rect x="790" y="182" width="3" height="5" fill="#000080"/>
<rect x="791" y="183" width="1" height="3" fill="#0000CD"/>
<rect x="795" y="184" width="1" height="33" fill="#FF4000"/>
<rect x="794" y="187" width="3" height="11" fill="#FF4000"/>
<rect x="795" y="188" width="1" height="9" fill="#FF0000"/>
<rect x="799" y="152" width="1" height="37" fill="#000080"/>
<rect x="798" y="158" width="3" height="26" fill="#000080"/>
<rect x="799" y="159" width="1" height="24" fill="#0000CD"/>
<rect x="803" y="141" width="1" height="22" fill="#000080"/>
<rect x="802" y="146" width="3" height="8" fill="#000080"/>
<rect x="803" y="147" width="1" height="6" fill="#0000CD"/>
<rect x="807" y="134" width="1" height="12" fill="#000080"/>
<rect x="806" y="136" width="3" height="10" fill="#000080"/>
<rect x="807" y="137" width="1" height="8" fill="#0000CD"/>
<rect x="811" y="125" width="1" height="14" fill="#000080"/>
<rect x="810" y="131" width="3" height="7" fill="#000080"/>
<rect x="811" y="132" width="1" height="5" fill="#0000CD"/>
<rect x="815" y="130" width="1" height="13" fill="#FF4000"/>
<rect x="814" y="138" width="3" height="3" fill="#FF4000"/>
<rect x="815" y="139" width="1" height="1" fill="#FF0000"/>
<rect x="819" y="138" width="1" height="17" fill="#FF4000"/>
<rect x="818" y="143" width="3" height="8" fill="#FF4000"/>
<rect x="819" y="144" width="1" height="6" fill="#FF0000"/>
<rect x="823" y="131" width="1" height="15" fill="#000080"/>
<rect x="822" y="135" width="3" height="10" fill="#000080"/>
<rect x="823" y="136" width="1" height="8" fill="#0000CD"/>
<rect x="827" y="107" width="1" height="24" fill="#000080"/>
<rect x="826" y="111" width="3" height="19" fill="#000080"/>
<rect x="827" y="112" width="1" height="17" fill="#0000CD"/>
<rect x="831" y="99" width="1" height="13" fill="#FF4000"/>
<rect x="830" y="106" width="3" height="5" fill="#FF4000"/>
<rect x="831" y="107" width="1" height="3" fill="#FF0000"/>
<rect x="835" y="98" width="1" height="15" fill="#000080"/>
<rect x="834" y="102" width="3" height="4" fill="#000080"/>
<rect x="835" y="103" width="1" height="2" fill="#0000CD"/>
<rect x="839" y="105" width="1" height="17" fill="#FF4000"/>
<rect x="838" y="106" width="3" height="11" fill="#FF4000"/>
<rect x="839" y="107" width="1" height="9" fill="#FF0000"/>
<rect x="843" y="110" width="1" height="17" fill="#FF4000"/>
<rect x="842" y="115" width="3" height="6" fill="#FF4000"/>
<rect x="843" y="116" width="1" height="4" fill="#FF0000"/>
<rect x="847" y="108" width="1" height="13" fill="#000080"/>
<rect x="846" y="109" width="3" height="11" fill="#000080"/>
<rect x="847" y="110" width="1" height="9" fill="#0000CD"/>
<rect x="851" y="110" width="1" height="19" fill="#FF4000"/>
<rect x="850" y="111" width="3" height="12" fill="#FF4000"/>
<rect x="851" y="112" width="1" height="10" fill="#FF0000"/>
<rect x="855" y="114" width="1" height="19" fill="#000080"/>
<rect x="854" y="119" width="3" height="6" fill="#000080"/>
<rect x="855" y="120" width="1" height="4" fill="#0000CD"/>
<rect x="859" y="107" width="1" height="16" fill="#000080"/>
<rect x="858" y="113" width="3" height="7" fill="#000080"/>
<rect x="859" y="114" width="1" height="5" fill="#0000CD"/>
<rect x="863" y="111" width="1" height="23" fill="#FF4000"/>
<rect x="862" y="115" width="3" height="7" fill="#FF4000"/>
<rect x="863" y="116" width="1" height="5" fill="#FF0000"/>
<rect x="867" y="110" width="1" height="20" fill="#FF4000"/>
<rect x="866" y="118" width="3" height="11" fill="#FF4000"/>
<rect x="867" y="119" width="1" height="9" fill="#FF0000"/>
<rect x="871" y="113" width="1" height="27" fill="#000080"/>
<rect x="870" y="119" width="3" height="4" fill="#000080"/>
<rect x="871" y="120" width="1" height="2" fill="#0000CD"/>
<rect x="875" y="100" width="1" height="19" fill="#FF4000"/>
<rect x="874" y="113" width="3" height="3" fill="#FF4000"/>
<rect x="875" y="114" width="1" height="1" fill="#FF0000"/>
<rect x="879" y="96" width="1" height="23" fill="#000080"/>
<rect x="878" y="102" width="3" height="15" fill="#000080"/>
<rect x="879" y="103" width="1" height="13" fill="#0000CD"/>
<rect x="883" y="92" width="1" height="17" fill="#FF4000"/>
<rect x="882" y="97" width="3" height="4" fill="#FF4000"/>
<rect x="883" y="98" width="1" height="2" fill="#FF0000"/>
<rect x="887" y="96" width="1" height="17" fill="#FF4000"/>
<rect x="886" y="102" width="3" height="10" fill="#FF4000"/>
<rect x="887" y="103" width="1" height="8" fill="#FF0000"/>
<rect x="891" y="83" width="1" height="26" fill="#000080"/>
<rect x="890" y="89" width="3" height="20" fill="#000080"/>
<rect x="891" y="90" width="1" height="18" fill="#0000CD"/>
<rect x="895" y="69" width="1" height="24" fill="#000080"/>
<rect x="894" y="73" width="3" height="16" fill="#000080"/>
<rect x="895" y="74" width="1" height="14" fill="#0000CD"/>
<rect x="899" y="45" width="1" height="30" fill="#000080"/>
<rect x="898" y="50" width="3" height="25" fill="#000080"/>
<rect x="899" y="51" width="1" height="23" fill="#0000CD"/>
<rect x="903" y="38" width="1" height="11" fill="#000080"/>
<rect x="902" y="42" width="3" height="3" fill="#000080"/>
<rect x="903" y="43" width="1" height="1" fill="#0000CD"/>
<rect x="907" y="48" width="1" height="15" fill="#FF4000"/>
<rect x="906" y="50" width="3" height="9" fill="#FF4000"/>
<rect x="907" y="51" width="1" height="7" fill="#FF0000"/>
<rect x="911" y="49" width="1" height="19" fill="#FF4000"/>
<rect x="910" y="58" width="3" height="10" fill="#FF4000"/>
<rect x="911" y="59" width="1" height="8" fill="#FF0000"/>
<rect x="915" y="55" width="1" height="26" fill="#FF4000"/>
<rect x="914" y="62" width="3" height="17" fill="#FF4000"/>
<rect x="915" y="63" width="1" height="15" fill="#FF0000"/>
<rect x="919" y="60" width="1" height="22" fill="#000080"/>
<rect x="918" y="70" width="3" height="11" fill="#000080"/>
<rect x="919" y="71" width="1" height="9" fill="#0000CD"/>
<rect x="923" y="64" width="1" height="19" fill="#FF4000"/>
<rect x="922" y="69" width="3" height="3" fill="#FF4000"/>
<rect x="923" y="70" width="1" height="1" fill="#FF0000"/>
<rect x="927" y="43" width="1" height="15" fill="#000080"/>
<rect x="926" y="51" width="3" height="2" fill="#000080"/>
<rect x="931" y="33" width="1" height="31" fill="#000080"/>
<rect x="930" y="37" width="3" height="20" fill="#000080"/>
<rect x="931" y="38" width="1" height="18" fill="#0000CD"/>
<rect x="935" y="22" width="1" height="17" fill="#000080"/>
<rect x="934" y="31" width="3" height="3" fill="#000080"/>
<rect x="935" y="32" width="1" height="1" fill="#0000CD"/>
<rect x="939" y="38" width="1" height="33" fill="#FF4000"/>
<rect x="938" y="44" width="3" height="9" fill="#FF4000"/>
<rect x="939" y="45" width="1" height="7" fill="#FF0000"/>
<rect x="943" y="44" width="1" height="43" fill="#FF4000"/>
<rect x="942" y="49" width="3" height="17" fill="#FF4000"/>
<rect x="943" y="50" width="1" height="15" fill="#FF0000"/>
<rect x="947" y="62" width="1" height="32" fill="#000080"/>
<rect x="946" y="65" width="3" height="4" fill="#000080"/>
<rect x="947" y="66" width="1" height="2" fill="#0000CD"/>
<rect x="951" y="61" width="1" height="23" fill="#FF4000"/>
<rect x="950" y="67" width="3" height="4" fill="#FF4000"/>
<rect x="951" y="68" width="1" height="2" fill="#FF0000"/>
<rect x="955" y="66" width="1" height="84" fill="#FF4000"/>
<rect x="954" y="68" width="3" height="77" fill="#FF4000"/>
<rect x="955" y="69" width="1" height="75" fill="#FF0000"/>
<rect x="959" y="146" width="1" height="77" fill="#FF4000"/>
<rect x="958" y="184" width="3" height="18" fill="#FF4000"/>
<rect x="959" y="185" width="1" height="16" fill="#FF0000"/>
<rect x="963" y="158" width="1" height="56" fill="#FF4000"/>
<rect x="962" y="166" width="3" height="8" fill="#FF4000"/>
<rect x="963" y="167" width="1" height="6" fill="#FF0000"/>
<rect x="967" y="164" width="1" height="36" fill="#000080"/>
<rect x="966" y="181" width="3" height="10" fill="#000080"/>
<rect x="967" y="182" width="1" height="8" fill="#0000CD"/>
<rect x="971" y="132" width="1" height="56" fill="#000080"/>
<rect x="970" y="132" width="3" height="55" fill="#000080"/>
<rect x="971" y="133" width="1" height="53" fill="#0000CD"/>
<rect x="975" y="128" width="1" height="39" fill="#FF4000"/>
<rect x="974" y="135" width="3" height="11" fill="#FF4000"/>
<rect x="975" y="136" width="1" height="9" fill="#FF0000"/>
<rect x="979" y="140" width="1" height="51" fill="#FF4000"/>
<rect x="978" y="151" width="3" height="29" fill="#FF4000"/>
<rect x="979" y="152" width="1" height="27" fill="#FF0000"/>
<rect x="983" y="152" width="1" height="27" fill="#000080"/>
<rect x="982" y="164" width="3" height="3" fill="#000080"/>
<rect x="983" y="165" width="1" height="1" fill="#0000CD"/>
<rect x="987" y="155" width="1" height="36" fill="#FF4000"/>
<rect x="986" y="165" width="3" height="14" fill="#FF4000"/>
<rect x="987" y="166" width="1" height="12" fill="#FF0000"/>
<rect x="991" y="182" width="1" height="59" fill="#000080"/>
<rect x="990" y="192" width="3" height="16" fill="#000080"/>
<rect x="991" y="193" width="1" height="14" fill="#0000CD"/>
<rect x="995" y="177" width="1" height="71" fill="#FF4000"/>
<rect x="994" y="192" width="3" height="55" fill="#FF4000"/>
<rect x="995" y="193" width="1" height="53" fill="#FF0000"/>
<rect x="999" y="201" width="1" height="48" fill="#000080"/>
<rect x="998" y="213" width="3" height="31" fill="#000080"/>
<rect x="999" y="214" width="1" height="29" fill="#0000CD"/>
<rect x="1003" y="220" width="1" height="48" fill="#FF4000"/>
<rect x="1002" y="235" width="3" height="3" fill="#FF4000"/>
<rect x="1003" y="236" width="1" height="1" fill="#FF0000"/>
<rect x="1007" y="208" width="1" height="91" fill="#FF4000"/>
<rect x="1006" y="240" width="3" height="29" fill="#FF4000"/>
<rect x="1007" y="241" width="1" height="27" fill="#FF0000"/>
<rect x="1011" y="222" width="1" height="53" fill="#000080"/>
<rect x="1010" y="223" width="3" height="33" fill="#000080"/>
<rect x="1011" y="224" width="1" height="31" fill="#0000CD"/>
<rect x="1015" y="178" width="1" height="38" fill="#000080"/>
<rect x="1014" y="195" width="3" height="21" fill="#000080"/>
<rect x="1015" y="196" width="1" height="19" fill="#0000CD"/>
<rect x="1019" y="172" width="1" height="31" fill="#000080"/>
<rect x="1018" y="172" width="3" height="23" fill="#000080"/>
<rect x="1019" y="173" width="1" height="21" fill="#0000CD"/>
<rect x="1023" y="141" width="1" height="62" fill="#FF4000"/>
<rect x="1022" y="158" width="3" height="31" fill="#FF4000"/>
<rect x="1023" y="159" width="1" height="29" fill="#FF0000"/>
<rect x="1027" y="160" width="1" height="36" fill="#000080"/>
<rect x="1026" y="166" width="3" height="25" fill="#000080"/>
<rect x="1027" y="167" width="1" height="23" fill="#0000CD"/>
<rect x="1031" y="151" width="1" height="22" fill="#000080"/>
<rect x="1030" y="152" width="3" height="8" fill="#000080"/>
<rect x="1031" y="153" width="1" height="6" fill="#0000CD"/>
<rect x="1035" y="97" width="1" height="52" fill="#000080"/>
<rect x="1034" y="98" width="3" height="45" fill="#000080"/>
<rect x="1035" y="99" width="1" height="43" fill="#0000CD"/>
<rect x="1039" y="88" width="1" height="20" fill="#000080"/>
<rect x="1038" y="98" width="3" height="3" fill="#000080"/>
<rect x="1039" y="99" width="1" height="1" fill="#0000CD"/>
<rect x="1043" y="96" width="1" height="32" fill="#FF4000"/>
<rect x="1042" y="97" width="3" height="14" fill="#FF4000"/>
<rect x="1043" y="98" width="1" height="12" fill="#FF0000"/>
<rect x="1047" y="108" width="1" height="72" fill="#FF4000"/>
<rect x="1046" y="110" width="3" height="69" fill="#FF4000"/>
<rect x="1047" y="111" width="1" height="67" fill="#FF0000"/>
<rect x="1051" y="156" width="1" height="35" fill="#FF4000"/>
<rect x="1050" y="164" width="3" height="15" fill="#FF4000"/>
<rect x="1051" y="165" width="1" height="13" fill="#FF0000"/>
<rect x="1055" y="163" width="1" height="56" fill="#FF4000"/>
<rect x="1054" y="178" width="3" height="29" fill="#FF4000"/>
<rect x="1055" y="179" width="1" height="27" fill="#FF0000"/>
<rect x="1059" y="176" width="1" height="57" fill="#000080"/>
<rect x="1058" y="185" width="3" height="19" fill="#000080"/>
<rect x="1059" y="186" width="1" height="17" fill="#0000CD"/>
<rect x="1063" y="162" width="1" height="41" fill="#000080"/>
<rect x="1062" y="170" width="3" height="16" fill="#000080"/>
<rect x="1063" y="171" width="1" height="14" fill="#0000CD"/>
<rect x="1067" y="163" width="1" height="59" fill="#FF4000"/>
<rect x="1066" y="172" width="3" height="45" fill="#FF4000"/>
<rect x="1067" y="173" width="1" height="43" fill="#FF0000"/>
<rect x="1071" y="214" width="1" height="60" fill="#FF4000"/>
<rect x="1070" y="215" width="3" height="53" fill="#FF4000"/>
<rect x="1071" y="216" width="1" height="51" fill="#FF0000"/>
<rect x="1075" y="247" width="1" height="17" fill="#FF4000"/>
<rect x="1074" y="255" width="3" height="7" fill="#FF4000"/>
<rect x="1075" y="256" width="1" height="5" fill="#FF0000"/>
<rect x="1079" y="257" width="1" height="23" fill="#FF4000"/>
<rect x="1078" y="258" width="3" height="19" fill="#FF4000"/>
<rect x="1079" y="259" width="1" height="17" fill="#FF0000"/>
<rect x="1083" y="274" width="1" height="11" fill="#FF4000"/>
<rect x="1082" y="274" width="3" height="10" fill="#FF4000"/>
<rect x="1083" y="275" width="1" height="8" fill="#FF0000"/>
<rect x="1087" y="244" width="1" height="27" fill="#000080"/>
<rect x="1086" y="248" width="3" height="22" fill="#000080"/>
<rect x="1087" y="249" width="1" height="20" fill="#0000CD"/>
<rect x="1091" y="234" width="1" height="36" fill="#000080"/>
<rect x="1090" y="240" width="3" height="16" fill="#000080"/>
<rect x="1091" y="241" width="1" height="14" fill="#0000CD"/>
<rect x="1095" y="176" width="1" height="59" fill="#000080"/>
<rect x="1094" y="178" width="3" height="49" fill="#000080"/>
<rect x="1095" y="179" width="1" height="47" fill="#0000CD"/>
<rect x="1099" y="165" width="1" height="28" fill="#000080"/>
<rect x="1098" y="174" width="3" height="11" fill="#000080"/>
<rect x="1099" y="175" width="1" height="9" fill="#0000CD"/>
<rect x="1103" y="160" width="1" height="32" fill="#000080"/>
<rect x="1102" y="164" width="3" height="11" fill="#000080"/>
<rect x="1103" y="165" width="1" height="9" fill="#0000CD"/>
<rect x="1107" y="107" width="1" height="42" fill="#FF4000"/>
<rect x="1106" y="112" width="3" height="26" fill="#FF4000"/>
<rect x="1107" y="113" width="1" height="24" fill="#FF0000"/>
<rect x="1111" y="136" width="1" height="75" fill="#FF4000"/>
<rect x="1110" y="146" width="3" height="64" fill="#FF4000"/>
<rect x="1111" y="147" width="1" height="62" fill="#FF0000"/>
<rect x="1115" y="195" width="1" height="13" fill="#000080"/>
<rect x="1114" y="198" width="3" height="7" fill="#000080"/>
<rect x="1115" y="199" width="1" height="5" fill="#0000CD"/>
<rect x="1119" y="216" width="1" height="70" fill="#000080"/>
<rect x="1118" y="216" width="3" height="28" fill="#000080"/>
<rect x="1119" y="217" width="1" height="26" fill="#0000CD"/>
<rect x="1123" y="202" width="1" height="77" fill="#FF4000"/>
<rect x="1122" y="228" width="3" height="43" fill="#FF4000"/>
<rect x="1123" y="229" width="1" height="41" fill="#FF0000"/>
<rect x="1127" y="260" width="1" height="62" fill="#000080"/>
<rect x="1126" y="265" width="3" height="17" fill="#000080"/>
<rect x="1127" y="266" width="1" height="15" fill="#0000CD"/>
<rect x="1131" y="230" width="1" height="59" fill="#FF4000"/>
<rect x="1130" y="266" width="3" height="4" fill="#FF4000"/>
<rect x="1131" y="267" width="1" height="2" fill="#FF0000"/>
<rect x="1135" y="228" width="1" height="39" fill="#000080"/>
<rect x="1134" y="252" width="3" height="8" fill="#000080"/>
<rect x="1135" y="253" width="1" height="6" fill="#0000CD"/>
<rect x="1139" y="237" width="1" height="28" fill="#FF4000"/>
<rect x="1138" y="243" width="3" height="16" fill="#FF4000"/>
<rect x="1139" y="244" width="1" height="14" fill="#FF0000"/>
<rect x="1143" y="267" width="1" height="40" fill="#FF4000"/>
<rect x="1142" y="271" width="3" height="31" fill="#FF4000"/>
<rect x="1143" y="272" width="1" height="29" fill="#FF0000"/>
<rect x="1147" y="290" width="1" height="73" fill="#FF4000"/>
<rect x="1146" y="290" width="3" height="63" fill="#FF4000"/>
<rect x="1147" y="291" width="1" height="61" fill="#FF0000"/>
<rect x="1151" y="331" width="1" height="12" fill="#000080"/>
<rect x="1150" y="334" width="3" height="4" fill="#000080"/>
<rect x="1151" y="335" width="1" height="2" fill="#0000CD"/>
<polyline fill="none" stroke="#FF0000" stroke-width="1" points="3.5,369.5 7.5,367.0 11.5,364.5 13.5,363.5 16.5,363.0 20.5,362.6 25.5,362.6 28.5,361.6 31.5,362.3 40.5,362.5 45.5,362.3 50.5,361.5 55.5,360.6 59.5,360.8 63.5,360.5 67.5,358.5 71.5,355.1 75.5,349.2 79.5,343.9 83.5,337.7 87.5,331.5 91.5,326.6 95.5,320.8 99.5,314.8 103.5,309.3 107.5,302.4 111.5,295.0 115.5,288.3 119.5,280.6 123.5,273.9 127.5,268.1 131.5,265.1 135.5,261.3 139.5,258.1 143.5,253.9 147.5,249.6 151.5,245.2 155.5,242.1 159.5,239.0 163.5,236.1 167.5,232.8 171.5,227.5 175.5,223.4 179.5,219.2 183.5,215.1 187.5,209.3 191.5,202.1 195.5,193.7 199.5,186.4 203.5,177.0 207.5,168.6 211.5,159.5 215.5,149.9 219.5,140.9 223.5,132.5 227.5,124.9 231.5,115.8 235.5,108.3 239.5,103.0 243.5,98.6 247.5,96.2 251.5,99.6 255.5,109.3 259.5,118.2 263.5,125.4 267.5,139.5 271.5,152.8 275.5,163.8 279.5,174.9 283.5,185.1 287.5,195.1 291.5,203.5 295.5,210.0 299.5,219.0 303.5,227.8 307.5,231.4 311.5,225.4 315.5,219.6 319.5,216.4 323.5,209.2 327.5,206.9 331.5,207.4 335.5,205.8 339.5,206.1 343.5,208.6 347.5,211.6 351.5,210.6 355.5,208.3 359.5,207.4 363.5,208.9 367.5,211.6 371.5,216.3 375.5,222.4 379.5,224.7 383.5,224.1 387.5,228.2 391.5,237.9 395.5,242.2 399.5,249.1 403.5,255.6 407.5,263.4 411.5,274.4 415.5,281.6 419.5,284.6 423.5,286.9 427.5,294.2 431.5,297.9 435.5,300.1 439.5,303.8 443.5,300.1 447.5,294.2 451.5,291.6 455.5,284.6 459.5,278.8 463.5,275.6 467.5,270.2 471.5,267.1 475.5,269.2 479.5,272.9 483.5,270.2 487.5,268.6 491.5,269.9 495.5,270.8 499.5,275.1 503.5,278.5 507.5,281.1 511.5,284.4 515.5,287.6 519.5,288.6 523.5,286.4 527.5,283.8 531.5,277.8 535.5,273.4 539.5,270.5 543.5,267.6 547.5,264.1 551.5,257.5 555.5,251.0 559.5,244.1 563.5,240.3 567.5,237.6 571.5,237.1 575.5,235.9 579.5,238.0 583.5,239.2 587.5,239.6 591.5,238.7 595.5,236.1 599.5,232.4 603.5,228.1 607.5,225.8 611.5,222.4 615.5,220.0 619.5,217.3 623.5,215.1 627.5,210.8 631.5,210.6 635.5,208.9 639.5,210.0 643.5,210.9 647.5,214.4 651.5,220.2 655.5,227.8 659.5,235.5 663.5,242.6 667.5,249.6 671.5,256.7 675.5,263.3 679.5,267.9 683.5,271.7 687.5,271.2 691.5,269.6 695.5,267.8 699.5,266.2 703.5,261.1 707.5,256.1 711.5,249.4 715.5,242.4 719.5,237.4 723.5,232.1 727.5,226.1 731.5,219.2 735.5,211.9 739.5,204.4 743.5,200.1 747.5,197.5 751.5,192.5 755.5,189.4 759.5,187.1 763.5,184.1 767.5,181.5 771.5,178.6 775.5,175.0 779.5,171.9 783.5,170.1 787.5,170.3 791.5,171.1 795.5,173.7 799.5,172.7 803.5,170.1 807.5,167.7 811.5,164.5 815.5,161.8 819.5,160.5 823.5,158.4 827.5,155.6 831.5,152.4 835.5,148.0 839.5,143.4 843.5,138.1 847.5,132.9 851.5,127.6 855.5,124.8 859.5,122.4 863.5,121.4 867.5,121.1 871.5,119.6 875.5,117.1 879.5,114.8 883.5,114.0 887.5,114.1 891.5,113.1 895.5,110.1 899.5,105.1 903.5,100.3 907.5,95.7 911.5,92.0 915.5,89.5 919.5,85.9 923.5,81.8 927.5,76.9 931.5,71.4 935.5,66.3 939.5,62.9 943.5,59.6 947.5,57.9 951.5,57.6 955.5,64.4 959.5,75.7 963.5,83.9 967.5,92.1 971.5,96.0 975.5,101.3 979.5,109.0 983.5,117.1 987.5,127.1 991.5,138.6 995.5,152.5 999.5,163.0 1003.5,175.3 1007.5,189.5 1011.5,195.1 1015.5,194.7 1019.5,194.6 1023.5,195.1 1027.5,197.5 1031.5,198.0 1035.5,192.2 1039.5,187.5 1043.5,182.7 1047.5,181.8 1051.5,176.9 1055.5,176.4 1059.5,172.7 1063.5,165.7 1067.5,165.2 1071.5,170.3 1075.5,176.7 1079.5,183.0 1083.5,191.3 1087.5,198.2 1091.5,208.3 1095.5,214.0 1099.5,218.6 1103.5,217.6 1107.5,214.6 1111.5,214.9 1115.5,215.8 1119.5,219.1 1123.5,222.9 1127.5,222.8 1131.5,223.4 1135.5,221.6 1139.5,219.9 1143.5,223.6 1147.5,231.6 1151.5,242.8"/>
<path d="M3 371h1v1h-1zM2 372h1v1h-1zM4 372h1v1h-1zM3 373h1v1h-1z" fill="#00FF00"/>
<path d="M7 367h1v1h-1zM6 368h1v1h-1zM8 368h1v1h-1zM7 369h1v1h-1z" fill="#00FF00"/>
<path d="M11 363h1v1h-1zM10 364h1v1h-1zM12 364h1v1h-1zM11 365h1v1h-1z" fill="#00FF00"/>
<path d="M15 345h1v1h-1zM14 346h1v1h-1zM16 346h1v1h-1zM15 347h1v1h-1z" fill="#00FF00"/>
<path d="M19 346h1v1h-1zM18 347h1v1h-1zM20 347h1v1h-1zM19 348h1v1h-1z" fill="#00FF00"/>
<path d="M23 346h1v1h-1zM22 347h1v1h-1zM24 347h1v1h-1zM23 348h1v1h-1z" fill="#00FF00"/>
<path d="M27 347h1v1h-1zM26 348h1v1h-1zM28 348h1v1h-1zM27 349h1v1h-1z" fill="#00FF00"/>
<path d="M31 348h1v1h-1zM30 349h1v1h-1zM32 349h1v1h-1zM31 350h1v1h-1z" fill="#00FF00"/>
<path d="M35 350h1v1h-1zM34 351h1v1h-1zM36 351h1v1h-1zM35 352h1v1h-1z" fill="#00FF00"/>
<path d="M39 352h1v1h-1zM38 353h1v1h-1zM40 353h1v1h-1zM39 354h1v1h-1z" fill="#00FF00"/>
<path d="M43 354h1v1h-1zM42 355h1v1h-1zM44 355h1v1h-1zM43 356h1v1h-1z" fill="#00FF00"/>
<path d="M47 381h1v1h-1zM46 382h1v1h-1zM48 382h1v1h-1zM47 383h1v1h-1z" fill="#00FF00"/>
<path d="M51 381h1v1h-1zM50 382h1v1h-1zM52 382h1v1h-1zM51 383h1v1h-1z" fill="#00FF00"/>
<path d="M55 379h1v1h-1zM54 380h1v1h-1zM56 380h1v1h-1zM55 381h1v1h-1z" fill="#00FF00"/>
<path d="M59 378h1v1h-1zM58 379h1v1h-1zM60 379h1v1h-1zM59 380h1v1h-1z" fill="#00FF00"/>
<path d="M63 377h1v1h-1zM62 378h1v1h-1zM64 378h1v1h-1zM63 379h1v1h-1z" fill="#00FF00"/>
<path d="M67 375h1v1h-1zM66 376h1v1h-1zM68 376h1v1h-1zM67 377h1v1h-1z" fill="#00FF00"/>
<path d="M71 370h1v1h-1zM70 371h1v1h-1zM72 371h1v1h-1zM71 372h1v1h-1z" fill="#00FF00"/>
<path d="M75 365h1v1h-1zM74 366h1v1h-1zM76 366h1v1h-1zM75 367h1v1h-1z" fill="#00FF00"/>
<path d="M79 354h1v1h-1zM78 355h1v1h-1zM80 355h1v1h-1zM79 356h1v1h-1z" fill="#00FF00"/>
<path d="M83 345h1v1h-1zM82 346h1v1h-1zM84 346h1v1h-1zM83 347h1v1h-1z" fill="#00FF00"/>
<path d="M87 332h1v1h-1zM86 333h1v1h-1zM88 333h1v1h-1zM87 334h1v1h-1z" fill="#00FF00"/>
<path d="M91 322h1v1h-1zM90 323h1v1h-1zM92 323h1v1h-1zM91 324h1v1h-1z" fill="#00FF00"/>
<path d="M95 312h1v1h-1zM94 313h1v1h-1zM96 313h1v1h-1zM95 314h1v1h-1z" fill="#00FF00"/>
<path d="M99 304h1v1h-1zM98 305h1v1h-1zM100 305h1v1h-1zM99 306h1v1h-1z" fill="#00FF00"/>
<path d="M103 301h1v1h-1zM102 302h1v1h-1zM104 302h1v1h-1zM103 303h1v1h-1z" fill="#00FF00"/>
<path d="M107 295h1v1h-1zM106 296h1v1h-1zM108 296h1v1h-1zM107 297h1v1h-1z" fill="#00FF00"/>
<path d="M111 289h1v1h-1zM110 290h1v1h-1zM112 290h1v1h-1zM111 291h1v1h-1z" fill="#00FF00"/>
<path d="M115 281h1v1h-1zM114 282h1v1h-1zM116 282h1v1h-1zM115 283h1v1h-1z" fill="#00FF00"/>
<path d="M119 273h1v1h-1zM118 274h1v1h-1zM120 274h1v1h-1zM119 275h1v1h-1z" fill="#00FF00"/>
<path d="M123 266h1v1h-1zM122 267h1v1h-1zM124 267h1v1h-1zM123 268h1v1h-1z" fill="#00FF00"/>
<path d="M127 258h1v1h-1zM126 259h1v1h-1zM128 259h1v1h-1zM127 260h1v1h-1z" fill="#00FF00"/>
<path d="M131 251h1v1h-1zM130 252h1v1h-1zM132 252h1v1h-1zM131 253h1v1h-1z" fill="#00FF00"/>
<path d="M135 245h1v1h-1zM134 246h1v1h-1zM136 246h1v1h-1zM135 247h1v1h-1z" fill="#00FF00"/>
<path d="M139 241h1v1h-1zM138 242h1v1h-1zM140 242h1v1h-1zM139 243h1v1h-1z" fill="#00FF00"/>
<path d="M143 223h1v1h-1zM142 224h1v1h-1zM144 224h1v1h-1zM143 225h1v1h-1z" fill="#00FF00"/>
<path d="M147 223h1v1h-1zM146 224h1v1h-1zM148 224h1v1h-1zM147 225h1v1h-1z" fill="#00FF00"/>
<path d="M151 224h1v1h-1zM150 225h1v1h-1zM152 225h1v1h-1zM151 226h1v1h-1z" fill="#00FF00"/>
<path d="M155 241h1v1h-1zM154 242h1v1h-1zM156 242h1v1h-1zM155 243h1v1h-1z" fill="#00FF00"/>
<path d="M159 240h1v1h-1zM158 241h1v1h-1zM160 241h1v1h-1zM159 242h1v1h-1z" fill="#00FF00"/>
<path d="M163 240h1v1h-1zM162 241h1v1h-1zM164 241h1v1h-1zM163 242h1v1h-1z" fill="#00FF00"/>
<path d="M167 239h1v1h-1zM166 240h1v1h-1zM168 240h1v1h-1zM167 241h1v1h-1z" fill="#00FF00"/>
<path d="M171 237h1v1h-1zM170 238h1v1h-1zM172 238h1v1h-1zM171 239h1v1h-1z" fill="#00FF00"/>
<path d="M175 232h1v1h-1zM174 233h1v1h-1zM176 233h1v1h-1zM175 234h1v1h-1z" fill="#00FF00"/>
<path d="M179 226h1v1h-1zM178 227h1v1h-1zM180 227h1v1h-1zM179 228h1v1h-1z" fill="#00FF00"/>
<path d="M183 219h1v1h-1zM182 220h1v1h-1zM184 220h1v1h-1zM183 221h1v1h-1z" fill="#00FF00"/>
<path d="M187 213h1v1h-1zM186 214h1v1h-1zM188 214h1v1h-1zM187 215h1v1h-1z" fill="#00FF00"/>
<path d="M191 205h1v1h-1zM190 206h1v1h-1zM192 206h1v1h-1zM191 207h1v1h-1z" fill="#00FF00"/>
<path d="M195 193h1v1h-1zM194 194h1v1h-1zM196 194h1v1h-1zM195 195h1v1h-1z" fill="#00FF00"/>
<path d="M199 179h1v1h-1zM198 180h1v1h-1zM200 180h1v1h-1zM199 181h1v1h-1z" fill="#00FF00"/>
<path d="M203 164h1v1h-1zM202 165h1v1h-1zM204 165h1v1h-1zM203 166h1v1h-1z" fill="#00FF00"/>
<path d="M207 151h1v1h-1zM206 152h1v1h-1zM208 152h1v1h-1zM207 153h1v1h-1z" fill="#00FF00"/>
<path d="M211 140h1v1h-1zM210 141h1v1h-1zM212 141h1v1h-1zM211 142h1v1h-1z" fill="#00FF00"/>
<path d="M215 132h1v1h-1zM214 133h1v1h-1zM216 133h1v1h-1zM215 134h1v1h-1z" fill="#00FF00"/>
<path d="M219 124h1v1h-1zM218 125h1v1h-1zM220 125h1v1h-1zM219 126h1v1h-1z" fill="#00FF00"/>
<path d="M223 116h1v1h-1zM222 117h1v1h-1zM224 117h1v1h-1zM223 118h1v1h-1z" fill="#00FF00"/>
<path d="M227 108h1v1h-1zM226 109h1v1h-1zM228 109h1v1h-1zM227 110h1v1h-1z" fill="#00FF00"/>
<path d="M231 104h1v1h-1zM230 105h1v1h-1zM232 105h1v1h-1zM231 106h1v1h-1z" fill="#00FF00"/>
<path d="M235 94h1v1h-1zM234 95h1v1h-1zM236 95h1v1h-1zM235 96h1v1h-1z" fill="#00FF00"/>
<path d="M239 48h1v1h-1zM238 49h1v1h-1zM240 49h1v1h-1zM239 50h1v1h-1z" fill="#00FF00"/>
<path d="M243 48h1v1h-1zM242 49h1v1h-1zM244 49h1v1h-1zM243 50h1v1h-1z" fill="#00FF00"/>
<path d="M247 49h1v1h-1zM246 50h1v1h-1zM248 50h1v1h-1zM247 51h1v1h-1z" fill="#00FF00"/>
<path d="M251 52h1v1h-1zM250 53h1v1h-1zM252 53h1v1h-1zM251 54h1v1h-1z" fill="#00FF00"/>
<path d="M255 58h1v1h-1zM254 59h1v1h-1zM256 59h1v1h-1zM255 60h1v1h-1z" fill="#00FF00"/>
<path d="M259 80h1v1h-1zM258 81h1v1h-1zM260 81h1v1h-1zM259 82h1v1h-1z" fill="#00FF00"/>
<path d="M263 108h1v1h-1zM262 109h1v1h-1zM264 109h1v1h-1zM263 110h1v1h-1z" fill="#00FF00"/>
<path d="M267 132h1v1h-1zM266 133h1v1h-1zM268 133h1v1h-1zM267 134h1v1h-1z" fill="#00FF00"/>
<path d="M271 154h1v1h-1zM270 155h1v1h-1zM272 155h1v1h-1zM271 156h1v1h-1z" fill="#00FF00"/>
<path d="M275 180h1v1h-1zM274 181h1v1h-1zM276 181h1v1h-1zM275 182h1v1h-1z" fill="#00FF00"/>
<path d="M279 203h1v1h-1zM278 204h1v1h-1zM280 204h1v1h-1zM279 205h1v1h-1z" fill="#00FF00"/>
<path d="M283 372h1v1h-1zM282 373h1v1h-1zM284 373h1v1h-1zM283 374h1v1h-1z" fill="#00FF00"/>
<path d="M287 369h1v1h-1zM286 370h1v1h-1zM288 370h1v1h-1zM287 371h1v1h-1z" fill="#00FF00"/>
<path d="M291 362h1v1h-1zM290 363h1v1h-1zM292 363h1v1h-1zM291 364h1v1h-1z" fill="#00FF00"/>
<path d="M295 350h1v1h-1zM294 351h1v1h-1zM296 351h1v1h-1zM295 352h1v1h-1z" fill="#00FF00"/>
<path d="M299 340h1v1h-1zM298 341h1v1h-1zM300 341h1v1h-1zM299 342h1v1h-1z" fill="#00FF00"/>
<path d="M303 329h1v1h-1zM302 330h1v1h-1zM304 330h1v1h-1zM303 331h1v1h-1z" fill="#00FF00"/>
<path d="M307 320h1v1h-1zM306 321h1v1h-1zM308 321h1v1h-1zM307 322h1v1h-1z" fill="#00FF00"/>
<path d="M311 311h1v1h-1zM310 312h1v1h-1zM312 312h1v1h-1zM311 313h1v1h-1z" fill="#00FF00"/>
<path d="M315 302h1v1h-1zM314 303h1v1h-1zM316 303h1v1h-1zM315 304h1v1h-1z" fill="#00FF00"/>
<path d="M319 289h1v1h-1zM318 290h1v1h-1zM320 290h1v1h-1zM319 291h1v1h-1z" fill="#00FF00"/>
<path d="M323 273h1v1h-1zM322 274h1v1h-1zM324 274h1v1h-1zM323 275h1v1h-1z" fill="#00FF00"/>
<path d="M327 132h1v1h-1zM326 133h1v1h-1zM328 133h1v1h-1zM327 134h1v1h-1z" fill="#00FF00"/>
<path d="M331 135h1v1h-1zM330 136h1v1h-1zM332 136h1v1h-1zM331 137h1v1h-1z" fill="#00FF00"/>
<path d="M335 141h1v1h-1zM334 142h1v1h-1zM336 142h1v1h-1zM335 143h1v1h-1z" fill="#00FF00"/>
<path d="M339 147h1v1h-1zM338 148h1v1h-1zM340 148h1v1h-1zM339 149h1v1h-1z" fill="#00FF00"/>
<path d="M343 152h1v1h-1zM342 153h1v1h-1zM344 153h1v1h-1zM343 154h1v1h-1z" fill="#00FF00"/>
<path d="M347 158h1v1h-1zM346 159h1v1h-1zM348 159h1v1h-1zM347 160h1v1h-1z" fill="#00FF00"/>
<path d="M351 163h1v1h-1zM350 164h1v1h-1zM352 164h1v1h-1zM351 165h1v1h-1z" fill="#00FF00"/>
<path d="M355 289h1v1h-1zM354 290h1v1h-1zM356 290h1v1h-1zM355 291h1v1h-1z" fill="#00FF00"/>
<path d="M359 286h1v1h-1zM358 287h1v1h-1zM360 287h1v1h-1zM359 288h1v1h-1z" fill="#00FF00"/>
<path d="M363 284h1v1h-1zM362 285h1v1h-1zM364 285h1v1h-1zM363 286h1v1h-1z" fill="#00FF00"/>
<path d="M367 281h1v1h-1zM366 282h1v1h-1zM368 282h1v1h-1zM367 283h1v1h-1z" fill="#00FF00"/>
<path d="M371 279h1v1h-1zM370 280h1v1h-1zM372 280h1v1h-1zM371 281h1v1h-1z" fill="#00FF00"/>
<path d="M375 277h1v1h-1zM374 278h1v1h-1zM376 278h1v1h-1zM375 279h1v1h-1z" fill="#00FF00"/>
<path d="M379 274h1v1h-1zM378 275h1v1h-1zM380 275h1v1h-1zM379 276h1v1h-1z" fill="#00FF00"/>
<path d="M383 272h1v1h-1zM382 273h1v1h-1zM384 273h1v1h-1zM383 274h1v1h-1z" fill="#00FF00"/>
<path d="M387 161h1v1h-1zM386 162h1v1h-1zM388 162h1v1h-1zM387 163h1v1h-1z" fill="#00FF00"/>
<path d="M391 164h1v1h-1zM390 165h1v1h-1zM392 165h1v1h-1zM391 166h1v1h-1z" fill="#00FF00"/>
<path d="M395 172h1v1h-1zM394 173h1v1h-1zM396 173h1v1h-1zM395 174h1v1h-1z" fill="#00FF00"/>
<path d="M399 179h1v1h-1zM398 180h1v1h-1zM400 180h1v1h-1zM399 181h1v1h-1z" fill="#00FF00"/>
<path d="M403 186h1v1h-1zM402 187h1v1h-1zM404 187h1v1h-1zM403 188h1v1h-1z" fill="#00FF00"/>
<path d="M407 193h1v1h-1zM406 194h1v1h-1zM408 194h1v1h-1zM407 195h1v1h-1z" fill="#00FF00"/>
<path d="M411 200h1v1h-1zM410 201h1v1h-1zM412 201h1v1h-1zM411 202h1v1h-1z" fill="#00FF00"/>
<path d="M415 210h1v1h-1zM414 211h1v1h-1zM416 211h1v1h-1zM415 212h1v1h-1z" fill="#00FF00"/>
<path d="M419 220h1v1h-1zM418 221h1v1h-1zM420 221h1v1h-1zM419 222h1v1h-1z" fill="#00FF00"/>
<path d="M423 229h1v1h-1zM422 230h1v1h-1zM424 230h1v1h-1zM423 231h1v1h-1z" fill="#00FF00"/>
<path d="M427 238h1v1h-1zM426 239h1v1h-1zM428 239h1v1h-1zM427 240h1v1h-1z" fill="#00FF00"/>
<path d="M431 246h1v1h-1zM430 247h1v1h-1zM432 247h1v1h-1zM431 248h1v1h-1z" fill="#00FF00"/>
<path d="M435 253h1v1h-1zM434 254h1v1h-1zM436 254h1v1h-1zM435 255h1v1h-1z" fill="#00FF00"/>
<path d="M439 257h1v1h-1zM438 258h1v1h-1zM440 258h1v1h-1zM439 259h1v1h-1z" fill="#00FF00"/>
<path d="M443 373h1v1h-1zM442 374h1v1h-1zM444 374h1v1h-1zM443 375h1v1h-1z" fill="#00FF00"/>
<path d="M447 370h1v1h-1zM446 371h1v1h-1zM448 371h1v1h-1zM447 372h1v1h-1z" fill="#00FF00"/>
<path d="M451 365h1v1h-1zM450 366h1v1h-1zM452 366h1v1h-1zM451 367h1v1h-1z" fill="#00FF00"/>
<path d="M455 358h1v1h-1zM454 359h1v1h-1zM456 359h1v1h-1zM455 360h1v1h-1z" fill="#00FF00"/>
<path d="M459 347h1v1h-1zM458 348h1v1h-1zM460 348h1v1h-1zM459 349h1v1h-1z" fill="#00FF00"/>
<path d="M463 337h1v1h-1zM462 338h1v1h-1zM464 338h1v1h-1zM463 339h1v1h-1z" fill="#00FF00"/>
<path d="M467 328h1v1h-1zM466 329h1v1h-1zM468 329h1v1h-1zM467 330h1v1h-1z" fill="#00FF00"/>
<path d="M471 319h1v1h-1zM470 320h1v1h-1zM472 320h1v1h-1zM471 321h1v1h-1z" fill="#00FF00"/>
<path d="M475 222h1v1h-1zM474 223h1v1h-1zM476 223h1v1h-1zM475 224h1v1h-1z" fill="#00FF00"/>
<path d="M479 224h1v1h-1zM478 225h1v1h-1zM480 225h1v1h-1zM479 226h1v1h-1z" fill="#00FF00"/>
<path d="M483 228h1v1h-1zM482 229h1v1h-1zM484 229h1v1h-1zM483 230h1v1h-1z" fill="#00FF00"/>
<path d="M487 232h1v1h-1zM486 233h1v1h-1zM488 233h1v1h-1zM487 234h1v1h-1z" fill="#00FF00"/>
<path d="M491 236h1v1h-1zM490 237h1v1h-1zM492 237h1v1h-1zM491 238h1v1h-1z" fill="#00FF00"/>
<path d="M495 240h1v1h-1zM494 241h1v1h-1zM496 241h1v1h-1zM495 242h1v1h-1z" fill="#00FF00"/>
<path d="M499 245h1v1h-1zM498 246h1v1h-1zM500 246h1v1h-1zM499 247h1v1h-1z" fill="#00FF00"/>
<path d="M503 250h1v1h-1zM502 251h1v1h-1zM504 251h1v1h-1zM503 252h1v1h-1z" fill="#00FF00"/>
<path d="M507 258h1v1h-1zM506 259h1v1h-1zM508 259h1v1h-1zM507 260h1v1h-1z" fill="#00FF00"/>
<path d="M511 355h1v1h-1zM510 356h1v1h-1zM512 356h1v1h-1zM511 357h1v1h-1z" fill="#00FF00"/>
<path d="M515 353h1v1h-1zM514 354h1v1h-1zM516 354h1v1h-1zM515 355h1v1h-1z" fill="#00FF00"/>
<path d="M519 351h1v1h-1zM518 352h1v1h-1zM520 352h1v1h-1zM519 353h1v1h-1z" fill="#00FF00"/>
<path d="M523 347h1v1h-1zM522 348h1v1h-1zM524 348h1v1h-1zM523 349h1v1h-1z" fill="#00FF00"/>
<path d="M527 340h1v1h-1zM526 341h1v1h-1zM528 341h1v1h-1zM527 342h1v1h-1z" fill="#00FF00"/>
<path d="M531 331h1v1h-1zM530 332h1v1h-1zM532 332h1v1h-1zM531 333h1v1h-1z" fill="#00FF00"/>
<path d="M535 319h1v1h-1zM534 320h1v1h-1zM536 320h1v1h-1zM535 321h1v1h-1z" fill="#00FF00"/>
<path d="M539 308h1v1h-1zM538 309h1v1h-1zM540 309h1v1h-1zM539 310h1v1h-1z" fill="#00FF00"/>
<path d="M543 298h1v1h-1zM542 299h1v1h-1zM544 299h1v1h-1zM543 300h1v1h-1z" fill="#00FF00"/>
<path d="M547 290h1v1h-1zM546 291h1v1h-1zM548 291h1v1h-1zM547 292h1v1h-1z" fill="#00FF00"/>
<path d="M551 282h1v1h-1zM550 283h1v1h-1zM552 283h1v1h-1zM551 284h1v1h-1z" fill="#00FF00"/>
<path d="M555 272h1v1h-1zM554 273h1v1h-1zM556 273h1v1h-1zM555 274h1v1h-1z" fill="#00FF00"/>
<path d="M559 264h1v1h-1zM558 265h1v1h-1zM560 265h1v1h-1zM559 266h1v1h-1z" fill="#00FF00"/>
<path d="M563 256h1v1h-1zM562 257h1v1h-1zM564 257h1v1h-1zM563 258h1v1h-1z" fill="#00FF00"/>
<path d="M567 250h1v1h-1zM566 251h1v1h-1zM568 251h1v1h-1zM567 252h1v1h-1z" fill="#00FF00"/>
<path d="M571 202h1v1h-1zM570 203h1v1h-1zM572 203h1v1h-1zM571 204h1v1h-1z" fill="#00FF00"/>
<path d="M575 204h1v1h-1zM574 205h1v1h-1zM576 205h1v1h-1zM575 206h1v1h-1z" fill="#00FF00"/>
<path d="M579 205h1v1h-1zM578 206h1v1h-1zM580 206h1v1h-1zM579 207h1v1h-1z" fill="#00FF00"/>
<path d="M583 207h1v1h-1zM582 208h1v1h-1zM584 208h1v1h-1zM583 209h1v1h-1z" fill="#00FF00"/>
<path d="M587 208h1v1h-1zM586 209h1v1h-1zM588 209h1v1h-1zM587 210h1v1h-1z" fill="#00FF00"/>
<path d="M591 210h1v1h-1zM590 211h1v1h-1zM592 211h1v1h-1zM591 212h1v1h-1z" fill="#00FF00"/>
<path d="M595 284h1v1h-1zM594 285h1v1h-1zM596 285h1v1h-1zM595 286h1v1h-1z" fill="#00FF00"/>
<path d="M599 282h1v1h-1zM598 283h1v1h-1zM600 283h1v1h-1zM599 284h1v1h-1z" fill="#00FF00"/>
<path d="M603 278h1v1h-1zM602 279h1v1h-1zM604 279h1v1h-1zM603 280h1v1h-1z" fill="#00FF00"/>
<path d="M607 274h1v1h-1zM606 275h1v1h-1zM608 275h1v1h-1zM607 276h1v1h-1z" fill="#00FF00"/>
<path d="M611 268h1v1h-1zM610 269h1v1h-1zM612 269h1v1h-1zM611 270h1v1h-1z" fill="#00FF00"/>
<path d="M615 262h1v1h-1zM614 263h1v1h-1zM616 263h1v1h-1zM615 264h1v1h-1z" fill="#00FF00"/>
<path d="M619 257h1v1h-1zM618 258h1v1h-1zM620 258h1v1h-1zM619 259h1v1h-1z" fill="#00FF00"/>
<path d="M623 252h1v1h-1zM622 253h1v1h-1zM624 253h1v1h-1zM623 254h1v1h-1z" fill="#00FF00"/>
<path d="M627 247h1v1h-1zM626 248h1v1h-1zM628 248h1v1h-1zM627 249h1v1h-1z" fill="#00FF00"/>
<path d="M631 171h1v1h-1zM630 172h1v1h-1zM632 172h1v1h-1zM631 173h1v1h-1z" fill="#00FF00"/>
<path d="M635 173h1v1h-1zM634 174h1v1h-1zM636 174h1v1h-1zM635 175h1v1h-1z" fill="#00FF00"/>
<path d="M639 174h1v1h-1zM638 175h1v1h-1zM640 175h1v1h-1zM639 176h1v1h-1z" fill="#00FF00"/>
<path d="M643 178h1v1h-1zM642 179h1v1h-1zM644 179h1v1h-1zM643 180h1v1h-1z" fill="#00FF00"/>
<path d="M647 182h1v1h-1zM646 183h1v1h-1zM648 183h1v1h-1zM647 184h1v1h-1z" fill="#00FF00"/>
<path d="M651 189h1v1h-1zM650 190h1v1h-1zM652 190h1v1h-1zM651 191h1v1h-1z" fill="#00FF00"/>
<path d="M655 196h1v1h-1zM654 197h1v1h-1zM656 197h1v1h-1zM655 198h1v1h-1z" fill="#00FF00"/>
<path d="M659 202h1v1h-1zM658 203h1v1h-1zM660 203h1v1h-1zM659 204h1v1h-1z" fill="#00FF00"/>
<path d="M663 210h1v1h-1zM662 211h1v1h-1zM664 211h1v1h-1zM663 212h1v1h-1z" fill="#00FF00"/>
<path d="M667 218h1v1h-1zM666 219h1v1h-1zM668 219h1v1h-1zM667 220h1v1h-1z" fill="#00FF00"/>
<path d="M671 226h1v1h-1zM670 227h1v1h-1zM672 227h1v1h-1zM671 228h1v1h-1z" fill="#00FF00"/>
<path d="M675 232h1v1h-1zM674 233h1v1h-1zM676 233h1v1h-1zM675 234h1v1h-1z" fill="#00FF00"/>
<path d="M679 239h1v1h-1zM678 240h1v1h-1zM680 240h1v1h-1zM679 241h1v1h-1z" fill="#00FF00"/>
<path d="M683 244h1v1h-1zM682 245h1v1h-1zM684 245h1v1h-1zM683 246h1v1h-1z" fill="#00FF00"/>
<path d="M687 310h1v1h-1zM686 311h1v1h-1zM688 311h1v1h-1zM687 312h1v1h-1z" fill="#00FF00"/>
<path d="M691 308h1v1h-1zM690 309h1v1h-1zM692 309h1v1h-1zM691 310h1v1h-1z" fill="#00FF00"/>
<path d="M695 305h1v1h-1zM694 306h1v1h-1zM696 306h1v1h-1zM695 307h1v1h-1z" fill="#00FF00"/>
<path d="M699 301h1v1h-1zM698 302h1v1h-1zM700 302h1v1h-1zM699 303h1v1h-1z" fill="#00FF00"/>
<path d="M703 298h1v1h-1zM702 299h1v1h-1zM704 299h1v1h-1zM703 300h1v1h-1z" fill="#00FF00"/>
<path d="M707 292h1v1h-1zM706 293h1v1h-1zM708 293h1v1h-1zM707 294h1v1h-1z" fill="#00FF00"/>
<path d="M711 285h1v1h-1zM710 286h1v1h-1zM712 286h1v1h-1zM711 287h1v1h-1z" fill="#00FF00"/>
<path d="M715 276h1v1h-1zM714 277h1v1h-1zM716 277h1v1h-1zM715 278h1v1h-1z" fill="#00FF00"/>
<path d="M719 266h1v1h-1zM718 267h1v1h-1zM720 267h1v1h-1zM719 268h1v1h-1z" fill="#00FF00"/>
<path d="M723 256h1v1h-1zM722 257h1v1h-1zM724 257h1v1h-1zM723 258h1v1h-1z" fill="#00FF00"/>
<path d="M727 248h1v1h-1zM726 249h1v1h-1zM728 249h1v1h-1zM727 250h1v1h-1z" fill="#00FF00"/>
<path d="M731 241h1v1h-1zM730 242h1v1h-1zM732 242h1v1h-1zM731 243h1v1h-1z" fill="#00FF00"/>
<path d="M735 233h1v1h-1zM734 234h1v1h-1zM736 234h1v1h-1zM735 235h1v1h-1z" fill="#00FF00"/>
<path d="M739 223h1v1h-1zM738 224h1v1h-1zM740 224h1v1h-1zM739 225h1v1h-1z" fill="#00FF00"/>
<path d="M743 210h1v1h-1zM742 211h1v1h-1zM744 211h1v1h-1zM743 212h1v1h-1z" fill="#00FF00"/>
<path d="M747 200h1v1h-1zM746 201h1v1h-1zM748 201h1v1h-1zM747 202h1v1h-1z" fill="#00FF00"/>
<path d="M751 191h1v1h-1zM750 192h1v1h-1zM752 192h1v1h-1zM751 193h1v1h-1z" fill="#00FF00"/>
<path d="M755 153h1v1h-1zM754 154h1v1h-1zM756 154h1v1h-1zM755 155h1v1h-1z" fill="#00FF00"/>
<path d="M759 154h1v1h-1zM758 155h1v1h-1zM760 155h1v1h-1zM759 156h1v1h-1z" fill="#00FF00"/>
<path d="M763 155h1v1h-1zM762 156h1v1h-1zM764 156h1v1h-1zM763 157h1v1h-1z" fill="#00FF00"/>
<path d="M767 157h1v1h-1zM766 158h1v1h-1zM768 158h1v1h-1zM767 159h1v1h-1z" fill="#00FF00"/>
<path d="M771 199h1v1h-1zM770 200h1v1h-1zM772 200h1v1h-1zM771 201h1v1h-1z" fill="#00FF00"/>
<path d="M775 198h1v1h-1zM774 199h1v1h-1zM776 199h1v1h-1zM775 200h1v1h-1z" fill="#00FF00"/>
<path d="M779 197h1v1h-1zM778 198h1v1h-1zM780 198h1v1h-1zM779 199h1v1h-1z" fill="#00FF00"/>
<path d="M783 196h1v1h-1zM782 197h1v1h-1zM784 197h1v1h-1zM783 198h1v1h-1z" fill="#00FF00"/>
<path d="M787 143h1v1h-1zM786 144h1v1h-1zM788 144h1v1h-1zM787 145h1v1h-1z" fill="#00FF00"/>
<path d="M791 144h1v1h-1zM790 145h1v1h-1zM792 145h1v1h-1zM791 146h1v1h-1z" fill="#00FF00"/>
<path d="M795 145h1v1h-1zM794 146h1v1h-1zM796 146h1v1h-1zM795 147h1v1h-1z" fill="#00FF00"/>
<path d="M799 148h1v1h-1zM798 149h1v1h-1zM800 149h1v1h-1zM799 150h1v1h-1z" fill="#00FF00"/>
<path d="M803 215h1v1h-1zM802 216h1v1h-1zM804 216h1v1h-1zM803 217h1v1h-1z" fill="#00FF00"/>
<path d="M807 213h1v1h-1zM806 214h1v1h-1zM808 214h1v1h-1zM807 215h1v1h-1z" fill="#00FF00"/>
<path d="M811 210h1v1h-1zM810 211h1v1h-1zM812 211h1v1h-1zM811 212h1v1h-1z" fill="#00FF00"/>
<path d="M815 205h1v1h-1zM814 206h1v1h-1zM816 206h1v1h-1zM815 207h1v1h-1z" fill="#00FF00"/>
<path d="M819 200h1v1h-1zM818 201h1v1h-1zM820 201h1v1h-1zM819 202h1v1h-1z" fill="#00FF00"/>
<path d="M823 196h1v1h-1zM822 197h1v1h-1zM824 197h1v1h-1zM823 198h1v1h-1z" fill="#00FF00"/>
<path d="M827 191h1v1h-1zM826 192h1v1h-1zM828 192h1v1h-1zM827 193h1v1h-1z" fill="#00FF00"/>
<path d="M831 185h1v1h-1zM830 186h1v1h-1zM832 186h1v1h-1zM831 187h1v1h-1z" fill="#00FF00"/>
<path d="M835 176h1v1h-1zM834 177h1v1h-1zM836 177h1v1h-1zM835 178h1v1h-1z" fill="#00FF00"/>
<path d="M839 166h1v1h-1zM838 167h1v1h-1zM840 167h1v1h-1zM839 168h1v1h-1z" fill="#00FF00"/>
<path d="M843 158h1v1h-1zM842 159h1v1h-1zM844 159h1v1h-1zM843 160h1v1h-1z" fill="#00FF00"/>
<path d="M847 151h1v1h-1zM846 152h1v1h-1zM848 152h1v1h-1zM847 153h1v1h-1z" fill="#00FF00"/>
<path d="M851 144h1v1h-1zM850 145h1v1h-1zM852 145h1v1h-1zM851 146h1v1h-1z" fill="#00FF00"/>
<path d="M855 139h1v1h-1zM854 140h1v1h-1zM856 140h1v1h-1zM855 141h1v1h-1z" fill="#00FF00"/>
<path d="M859 134h1v1h-1zM858 135h1v1h-1zM860 135h1v1h-1zM859 136h1v1h-1z" fill="#00FF00"/>
<path d="M863 97h1v1h-1zM862 98h1v1h-1zM864 98h1v1h-1zM863 99h1v1h-1z" fill="#00FF00"/>
<path d="M867 98h1v1h-1zM866 99h1v1h-1zM868 99h1v1h-1zM867 100h1v1h-1z" fill="#00FF00"/>
<path d="M871 98h1v1h-1zM870 99h1v1h-1zM872 99h1v1h-1zM871 100h1v1h-1z" fill="#00FF00"/>
<path d="M875 138h1v1h-1zM874 139h1v1h-1zM876 139h1v1h-1zM875 140h1v1h-1z" fill="#00FF00"/>
<path d="M879 138h1v1h-1zM878 139h1v1h-1zM880 139h1v1h-1zM879 140h1v1h-1z" fill="#00FF00"/>
<path d="M883 136h1v1h-1zM882 137h1v1h-1zM884 137h1v1h-1zM883 138h1v1h-1z" fill="#00FF00"/>
<path d="M887 134h1v1h-1zM886 135h1v1h-1zM888 135h1v1h-1zM887 136h1v1h-1z" fill="#00FF00"/>
<path d="M891 131h1v1h-1zM890 132h1v1h-1zM892 132h1v1h-1zM891 133h1v1h-1z" fill="#00FF00"/>
<path d="M895 127h1v1h-1zM894 128h1v1h-1zM896 128h1v1h-1zM895 129h1v1h-1z" fill="#00FF00"/>
<path d="M899 121h1v1h-1zM898 122h1v1h-1zM900 122h1v1h-1zM899 123h1v1h-1z" fill="#00FF00"/>
<path d="M903 112h1v1h-1zM902 113h1v1h-1zM904 113h1v1h-1zM903 114h1v1h-1z" fill="#00FF00"/>
<path d="M907 101h1v1h-1zM906 102h1v1h-1zM908 102h1v1h-1zM907 103h1v1h-1z" fill="#00FF00"/>
<path d="M911 92h1v1h-1zM910 93h1v1h-1zM912 93h1v1h-1zM911 94h1v1h-1z" fill="#00FF00"/>
<path d="M915 85h1v1h-1zM914 86h1v1h-1zM916 86h1v1h-1zM915 87h1v1h-1z" fill="#00FF00"/>
<path d="M919 37h1v1h-1zM918 38h1v1h-1zM920 38h1v1h-1zM919 39h1v1h-1z" fill="#00FF00"/>
<path d="M923 38h1v1h-1zM922 39h1v1h-1zM924 39h1v1h-1zM923 40h1v1h-1z" fill="#00FF00"/>
<path d="M927 40h1v1h-1zM926 41h1v1h-1zM928 41h1v1h-1zM927 42h1v1h-1z" fill="#00FF00"/>
<path d="M931 81h1v1h-1zM930 82h1v1h-1zM932 82h1v1h-1zM931 83h1v1h-1z" fill="#00FF00"/>
<path d="M935 81h1v1h-1zM934 82h1v1h-1zM936 82h1v1h-1zM935 83h1v1h-1z" fill="#00FF00"/>
<path d="M939 78h1v1h-1zM938 79h1v1h-1zM940 79h1v1h-1zM939 80h1v1h-1z" fill="#00FF00"/>
<path d="M943 21h1v1h-1zM942 22h1v1h-1zM944 22h1v1h-1zM943 23h1v1h-1z" fill="#00FF00"/>
<path d="M947 22h1v1h-1zM946 23h1v1h-1zM948 23h1v1h-1zM947 24h1v1h-1z" fill="#00FF00"/>
<path d="M951 25h1v1h-1zM950 26h1v1h-1zM952 26h1v1h-1zM951 27h1v1h-1z" fill="#00FF00"/>
<path d="M955 28h1v1h-1zM954 29h1v1h-1zM956 29h1v1h-1zM955 30h1v1h-1z" fill="#00FF00"/>
<path d="M959 35h1v1h-1zM958 36h1v1h-1zM960 36h1v1h-1zM959 37h1v1h-1z" fill="#00FF00"/>
<path d="M963 50h1v1h-1zM962 51h1v1h-1zM964 51h1v1h-1zM963 52h1v1h-1z" fill="#00FF00"/>
<path d="M967 64h1v1h-1zM966 65h1v1h-1zM968 65h1v1h-1zM967 66h1v1h-1z" fill="#00FF00"/>
<path d="M971 76h1v1h-1zM970 77h1v1h-1zM972 77h1v1h-1zM971 78h1v1h-1z" fill="#00FF00"/>
<path d="M975 88h1v1h-1zM974 89h1v1h-1zM976 89h1v1h-1zM975 90h1v1h-1z" fill="#00FF00"/>
<path d="M979 98h1v1h-1zM978 99h1v1h-1zM980 99h1v1h-1zM979 100h1v1h-1z" fill="#00FF00"/>
<path d="M983 108h1v1h-1zM982 109h1v1h-1zM984 109h1v1h-1zM983 110h1v1h-1z" fill="#00FF00"/>
<path d="M987 117h1v1h-1zM986 118h1v1h-1zM988 118h1v1h-1zM987 119h1v1h-1z" fill="#00FF00"/>
<path d="M991 126h1v1h-1zM990 127h1v1h-1zM992 127h1v1h-1zM991 128h1v1h-1z" fill="#00FF00"/>
<path d="M995 137h1v1h-1zM994 138h1v1h-1zM996 138h1v1h-1zM995 139h1v1h-1z" fill="#00FF00"/>
<path d="M999 150h1v1h-1zM998 151h1v1h-1zM1000 151h1v1h-1zM999 152h1v1h-1z" fill="#00FF00"/>
<path d="M1003 164h1v1h-1zM1002 165h1v1h-1zM1004 165h1v1h-1zM1003 166h1v1h-1z" fill="#00FF00"/>
<path d="M1007 180h1v1h-1zM1006 181h1v1h-1zM1008 181h1v1h-1zM1007 182h1v1h-1z" fill="#00FF00"/>
<path d="M1011 201h1v1h-1zM1010 202h1v1h-1zM1012 202h1v1h-1zM1011 203h1v1h-1z" fill="#00FF00"/>
<path d="M1015 297h1v1h-1zM1014 298h1v1h-1zM1016 298h1v1h-1zM1015 299h1v1h-1z" fill="#00FF00"/>
<path d="M1019 295h1v1h-1zM1018 296h1v1h-1zM1020 296h1v1h-1zM1019 297h1v1h-1z" fill="#00FF00"/>
<path d="M1023 290h1v1h-1zM1022 291h1v1h-1zM1024 291h1v1h-1zM1023 292h1v1h-1z" fill="#00FF00"/>
<path d="M1027 281h1v1h-1zM1026 282h1v1h-1zM1028 282h1v1h-1zM1027 283h1v1h-1z" fill="#00FF00"/>
<path d="M1031 272h1v1h-1zM1030 273h1v1h-1zM1032 273h1v1h-1zM1031 274h1v1h-1z" fill="#00FF00"/>
<path d="M1035 264h1v1h-1zM1034 265h1v1h-1zM1036 265h1v1h-1zM1035 266h1v1h-1z" fill="#00FF00"/>
<path d="M1039 251h1v1h-1zM1038 252h1v1h-1zM1040 252h1v1h-1zM1039 253h1v1h-1z" fill="#00FF00"/>
<path d="M1043 234h1v1h-1zM1042 235h1v1h-1zM1044 235h1v1h-1zM1043 236h1v1h-1z" fill="#00FF00"/>
<path d="M1047 220h1v1h-1zM1046 221h1v1h-1zM1048 221h1v1h-1zM1047 222h1v1h-1z" fill="#00FF00"/>
<path d="M1051 206h1v1h-1zM1050 207h1v1h-1zM1052 207h1v1h-1zM1051 208h1v1h-1z" fill="#00FF00"/>
<path d="M1055 87h1v1h-1zM1054 88h1v1h-1zM1056 88h1v1h-1zM1055 89h1v1h-1z" fill="#00FF00"/>
<path d="M1059 90h1v1h-1zM1058 91h1v1h-1zM1060 91h1v1h-1zM1059 92h1v1h-1z" fill="#00FF00"/>
<path d="M1063 95h1v1h-1zM1062 96h1v1h-1zM1064 96h1v1h-1zM1063 97h1v1h-1z" fill="#00FF00"/>
<path d="M1067 101h1v1h-1zM1066 102h1v1h-1zM1068 102h1v1h-1zM1067 103h1v1h-1z" fill="#00FF00"/>
<path d="M1071 106h1v1h-1zM1070 107h1v1h-1zM1072 107h1v1h-1zM1071 108h1v1h-1z" fill="#00FF00"/>
<path d="M1075 116h1v1h-1zM1074 117h1v1h-1zM1076 117h1v1h-1zM1075 118h1v1h-1z" fill="#00FF00"/>
<path d="M1079 125h1v1h-1zM1078 126h1v1h-1zM1080 126h1v1h-1zM1079 127h1v1h-1z" fill="#00FF00"/>
<path d="M1083 137h1v1h-1zM1082 138h1v1h-1zM1084 138h1v1h-1zM1083 139h1v1h-1z" fill="#00FF00"/>
<path d="M1087 152h1v1h-1zM1086 153h1v1h-1zM1088 153h1v1h-1zM1087 154h1v1h-1z" fill="#00FF00"/>
<path d="M1091 165h1v1h-1zM1090 166h1v1h-1zM1092 166h1v1h-1zM1091 167h1v1h-1z" fill="#00FF00"/>
<path d="M1095 283h1v1h-1zM1094 284h1v1h-1zM1096 284h1v1h-1zM1095 285h1v1h-1z" fill="#00FF00"/>
<path d="M1099 281h1v1h-1zM1098 282h1v1h-1zM1100 282h1v1h-1zM1099 283h1v1h-1z" fill="#00FF00"/>
<path d="M1103 276h1v1h-1zM1102 277h1v1h-1zM1104 277h1v1h-1zM1103 278h1v1h-1z" fill="#00FF00"/>
<path d="M1107 269h1v1h-1zM1106 270h1v1h-1zM1108 270h1v1h-1zM1107 271h1v1h-1z" fill="#00FF00"/>
<path d="M1111 256h1v1h-1zM1110 257h1v1h-1zM1112 257h1v1h-1zM1111 258h1v1h-1z" fill="#00FF00"/>
<path d="M1115 244h1v1h-1zM1114 245h1v1h-1zM1116 245h1v1h-1zM1115 246h1v1h-1z" fill="#00FF00"/>
<path d="M1119 106h1v1h-1zM1118 107h1v1h-1zM1120 107h1v1h-1zM1119 108h1v1h-1z" fill="#00FF00"/>
<path d="M1123 110h1v1h-1zM1122 111h1v1h-1zM1124 111h1v1h-1zM1123 112h1v1h-1z" fill="#00FF00"/>
<path d="M1127 113h1v1h-1zM1126 114h1v1h-1zM1128 114h1v1h-1zM1127 115h1v1h-1z" fill="#00FF00"/>
<path d="M1131 121h1v1h-1zM1130 122h1v1h-1zM1132 122h1v1h-1zM1131 123h1v1h-1z" fill="#00FF00"/>
<path d="M1135 129h1v1h-1zM1134 130h1v1h-1zM1136 130h1v1h-1zM1135 131h1v1h-1z" fill="#00FF00"/>
<path d="M1139 137h1v1h-1zM1138 138h1v1h-1zM1140 138h1v1h-1zM1139 139h1v1h-1z" fill="#00FF00"/>
<path d="M1143 144h1v1h-1zM1142 145h1v1h-1zM1144 145h1v1h-1zM1143 146h1v1h-1z" fill="#00FF00"/>
<path d="M1147 151h1v1h-1zM1146 152h1v1h-1zM1148 152h1v1h-1zM1147 153h1v1h-1z" fill="#00FF00"/>
<path d="M1151 164h1v1h-1zM1150 165h1v1h-1zM1152 165h1v1h-1zM1151 166h1v1h-1z" fill="#00FF00"/>
<line x1="276.8" y1="392.4" x2="1160" y2="112.9" stroke="#0000CD" stroke-width="2.2"/>
<line x1="354" y1="392.3" x2="1160" y2="158.8" stroke="#FF0000" stroke-width="2.2"/>
<line x1="871" y1="392" x2="1160" y2="312.5" stroke="#FF0000" stroke-width="2.2"/>
<rect x="3" y="52" width="1157" height="1" fill="#0000CD"/>
<rect x="3" y="87" width="1157" height="2" fill="#0000CD"/>
<rect x="3" y="132" width="1157" height="1" fill="#0000CD"/>
<rect x="3" y="171" width="1157" height="1" fill="#0000CD"/>
<rect x="3" y="240" width="1157" height="2" fill="#0000CD"/>
<rect x="3" y="244" width="1157" height="2" fill="#0000CD"/>
<rect x="3" y="253" width="1157" height="1" fill="#FF0000"/>
<rect x="3" y="321" width="1157" height="2" fill="#0000CD"/>
<path d="M1051.5 287.5 L1060.5 296.5 L1055.5 296.5 L1055.5 309.5 L1047.5 309.5 L1047.5 296.5 L1042.5 296.5 Z" fill="none" stroke="#000080" stroke-width="1.5"/>
<rect x="1100.5" y="341.5" width="30" height="40" fill="none" stroke="#000080" stroke-width="1"/>
<rect x="1113.5" y="340.5" width="4" height="4" fill="#fff" stroke="#000080" stroke-width="1"/>
<path d="M1111.5 349.5 L1119.5 349.5 L1119.5 362.5 L1124.5 362.5 L1115.5 371.5 L1106.5 362.5 L1111.5 362.5 Z" fill="none" stroke="#000080" stroke-width="1.6"/>
<path d="M1100.3 86.8 L1099 79.5 L1099.5 78.2 L1101.5 78.2 L1102 81.5 L1106.5 86.8 L1110.5 87.3 L1110.5 94 L1107 94.5 L1105 96.5 L1104 97.5 L1099 97.5 L1096.2 95.5 L1095.2 91 L1095.5 89 L1097.5 87.8 Z" fill="none" stroke="#000080" stroke-width="1" shape-rendering="auto"/>
<path d="M1096 90.5 H1102 M1096 92.2 H1103 M1096.5 93.9 H1103.5 M1097 95.6 H1103" stroke="#000080" stroke-width="0.9" shape-rendering="auto"/>
<rect x="2" y="2" width="1159" height="1" fill="#000"/>
<rect x="2" y="392" width="1159" height="1" fill="#000"/>
<rect x="2" y="2" width="1" height="391" fill="#000"/>
<rect x="1160" y="2" width="1" height="391" fill="#000"/>
<rect x="2" y="394" width="1159" height="1" fill="#000"/>
<rect x="2" y="436" width="1159" height="1" fill="#000"/>
<rect x="2" y="394" width="1" height="43" fill="#000"/>
<rect x="1160" y="394" width="1" height="43" fill="#000"/>
<rect x="2" y="438" width="1159" height="1" fill="#000"/>
<rect x="2" y="579" width="1159" height="1" fill="#000"/>
<rect x="2" y="438" width="1" height="142" fill="#000"/>
<rect x="1160" y="438" width="1" height="142" fill="#000"/>
<rect x="1161" y="26" width="3" height="1" fill="#000"/>
<text x="1166" y="29.6" font-family="'Liberation Sans', Arial, sans-serif" font-size="10.3" fill="#000" stroke="#000" stroke-width="0.3" text-anchor="start" font-weight="normal" textLength="25" lengthAdjust="spacingAndGlyphs">26903</text>
<rect x="1161" y="59" width="3" height="1" fill="#000"/>
<text x="1166" y="62.6" font-family="'Liberation Sans', Arial, sans-serif" font-size="10.3" fill="#000" stroke="#000" stroke-width="0.3" text-anchor="start" font-weight="normal" textLength="25" lengthAdjust="spacingAndGlyphs">26563</text>
<rect x="1161" y="92" width="3" height="1" fill="#000"/>
<text x="1166" y="95.6" font-family="'Liberation Sans', Arial, sans-serif" font-size="10.3" fill="#000" stroke="#000" stroke-width="0.3" text-anchor="start" font-weight="normal" textLength="25" lengthAdjust="spacingAndGlyphs">26223</text>
<rect x="1161" y="125" width="3" height="1" fill="#000"/>
<text x="1166" y="128.6" font-family="'Liberation Sans', Arial, sans-serif" font-size="10.3" fill="#000" stroke="#000" stroke-width="0.3" text-anchor="start" font-weight="normal" textLength="25" lengthAdjust="spacingAndGlyphs">25883</text>
<rect x="1161" y="158" width="3" height="1" fill="#000"/>
<text x="1166" y="161.6" font-family="'Liberation Sans', Arial, sans-serif" font-size="10.3" fill="#000" stroke="#000" stroke-width="0.3" text-anchor="start" font-weight="normal" textLength="25" lengthAdjust="spacingAndGlyphs">25543</text>
<rect x="1161" y="191" width="3" height="1" fill="#000"/>
<text x="1166" y="194.6" font-family="'Liberation Sans', Arial, sans-serif" font-size="10.3" fill="#000" stroke="#000" stroke-width="0.3" text-anchor="start" font-weight="normal" textLength="25" lengthAdjust="spacingAndGlyphs">25203</text>
<rect x="1161" y="224" width="3" height="1" fill="#000"/>
<text x="1166" y="227.6" font-family="'Liberation Sans', Arial, sans-serif" font-size="10.3" fill="#000" stroke="#000" stroke-width="0.3" text-anchor="start" font-weight="normal" textLength="25" lengthAdjust="spacingAndGlyphs">24863</text>
<rect x="1161" y="257" width="3" height="1" fill="#000"/>
<text x="1166" y="260.6" font-family="'Liberation Sans', Arial, sans-serif" font-size="10.3" fill="#000" stroke="#000" stroke-width="0.3" text-anchor="start" font-weight="normal" textLength="25" lengthAdjust="spacingAndGlyphs">24523</text>
<rect x="1161" y="290" width="3" height="1" fill="#000"/>
<text x="1166" y="293.6" font-family="'Liberation Sans', Arial, sans-serif" font-size="10.3" fill="#000" stroke="#000" stroke-width="0.3" text-anchor="start" font-weight="normal" textLength="25" lengthAdjust="spacingAndGlyphs">24183</text>
<rect x="1161" y="323" width="3" height="1" fill="#000"/>
<rect x="1161" y="356" width="3" height="1" fill="#000"/>
<text x="1166" y="359.6" font-family="'Liberation Sans', Arial, sans-serif" font-size="10.3" fill="#000" stroke="#000" stroke-width="0.3" text-anchor="start" font-weight="normal" textLength="25" lengthAdjust="spacingAndGlyphs">23513</text>
<rect x="1161" y="389" width="3" height="1" fill="#000"/>
<text x="1166" y="392.6" font-family="'Liberation Sans', Arial, sans-serif" font-size="10.3" fill="#000" stroke="#000" stroke-width="0.3" text-anchor="start" font-weight="normal" textLength="25" lengthAdjust="spacingAndGlyphs">23173</text>
<rect x="1162" y="46" width="33" height="11" fill="#0000CD"/>
<text x="1166" y="55" font-family="'Liberation Sans', Arial, sans-serif" font-size="10.3" fill="#fff" stroke="#fff" stroke-width="0.3" text-anchor="start" font-weight="normal" textLength="25" lengthAdjust="spacingAndGlyphs">26633</text>
<rect x="1162" y="82" width="33" height="11" fill="#0000CD"/>
<text x="1166" y="91" font-family="'Liberation Sans', Arial, sans-serif" font-size="10.3" fill="#fff" stroke="#fff" stroke-width="0.3" text-anchor="start" font-weight="normal" textLength="25" lengthAdjust="spacingAndGlyphs">26262</text>
<rect x="1162" y="126" width="33" height="11" fill="#0000CD"/>
<text x="1166" y="135" font-family="'Liberation Sans', Arial, sans-serif" font-size="10.3" fill="#fff" stroke="#fff" stroke-width="0.3" text-anchor="start" font-weight="normal" textLength="25" lengthAdjust="spacingAndGlyphs">25814</text>
<rect x="1162" y="165" width="33" height="11" fill="#0000CD"/>
<text x="1166" y="174" font-family="'Liberation Sans', Arial, sans-serif" font-size="10.3" fill="#fff" stroke="#fff" stroke-width="0.3" text-anchor="start" font-weight="normal" textLength="25" lengthAdjust="spacingAndGlyphs">25408</text>
<rect x="1162" y="248" width="33" height="11" fill="#FF0000"/>
<text x="1166" y="257" font-family="'Liberation Sans', Arial, sans-serif" font-size="10.3" fill="#fff" stroke="#fff" stroke-width="0.3" text-anchor="start" font-weight="normal" textLength="25" lengthAdjust="spacingAndGlyphs">24570</text>
<rect x="1162" y="239" width="33" height="11" fill="#0000CD"/>
<text x="1166" y="248" font-family="'Liberation Sans', Arial, sans-serif" font-size="10.3" fill="#fff" stroke="#fff" stroke-width="0.3" text-anchor="start" font-weight="normal" textLength="25" lengthAdjust="spacingAndGlyphs">24648</text>
<rect x="1162" y="235" width="33" height="11" fill="#0000CD"/>
<text x="1166" y="244" font-family="'Liberation Sans', Arial, sans-serif" font-size="10.3" fill="#fff" stroke="#fff" stroke-width="0.3" text-anchor="start" font-weight="normal" textLength="25" lengthAdjust="spacingAndGlyphs">24693</text>
<rect x="1162" y="316" width="33" height="11" fill="#0000CD"/>
<text x="1166" y="325" font-family="'Liberation Sans', Arial, sans-serif" font-size="10.3" fill="#fff" stroke="#fff" stroke-width="0.3" text-anchor="start" font-weight="normal" textLength="25" lengthAdjust="spacingAndGlyphs">23856</text>
<rect x="1162" y="329" width="33" height="11" fill="#000"/>
<text x="1166" y="338" font-family="'Liberation Sans', Arial, sans-serif" font-size="10.3" fill="#fff" stroke="#fff" stroke-width="0.3" text-anchor="start" font-weight="normal" textLength="25" lengthAdjust="spacingAndGlyphs">23734</text>
<text x="8" y="407.5" font-family="'Liberation Sans', Arial, sans-serif" font-size="10.3" fill="#000" stroke="#000" stroke-width="0.3" text-anchor="start" font-weight="normal" textLength="74.5" lengthAdjust="spacingAndGlyphs">ATR(14) 511.8571</text>
<rect x="1161" y="395" width="3" height="1" fill="#000"/>
<text x="1163" y="405.3" font-family="'Liberation Sans', Arial, sans-serif" font-size="10.3" fill="#000" stroke="#000" stroke-width="0.3" text-anchor="start" font-weight="normal" textLength="38" lengthAdjust="spacingAndGlyphs">729.4786</text>
<text x="1163" y="433" font-family="'Liberation Sans', Arial, sans-serif" font-size="10.3" fill="#000" stroke="#000" stroke-width="0.3" text-anchor="start" font-weight="normal" textLength="33" lengthAdjust="spacingAndGlyphs">95.0929</text>
<polyline fill="none" stroke="#1E90FF" stroke-width="1" points="3,433.7 20,434.3 33,433.7 50,433 67,432 82,429.3 100,429 117,428.7 127,427.7 132,428.7 140,432 150,433 167,433 193,432.7 200,430.3 217,428 233,427 250,424.3 257,415.3 267,407 277,400.3 290,397.7 307,398 312,405.3 320,411 333,414.7 347,415.3 360,413.3 373,414.3 385,416.3 400,412.7 413,410.3 427,405.3 437,404.3 450,408 467,414.7 480,417.7 490,421 503,421 510,419.3 527,419.3 533,422.7 550,424.3 563,426.7 577,424.7 590,424.7 603,423.7 613,426 633,426.7 643,426 657,423.7 673,422.3 683,422.7 700,423.7 713,428 727,429.7 740,430 760,429 783,429 800,428 817,429 833,428 850,429.7 860,431 873,429.7 887,430.3 900,428.7 933,428 943,426.3 952,425.7 960,420.3 973,416.3 983,414.7 997,411.3 1007,407 1020,409.7 1040,411 1060,412 1067,414 1080,414 1085,416 1097,415.3 1103,416.3 1113,415.3 1123,413.7 1137,411 1147,407.7 1151,408.7"/>
<line x1="4" y1="481.5" x2="1160" y2="481.5" stroke="#A9A9A9" stroke-width="1" stroke-dasharray="3 3"/>
<line x1="4" y1="537.5" x2="1160" y2="537.5" stroke="#A9A9A9" stroke-width="1" stroke-dasharray="3 3"/>
<text x="7.5" y="451" font-family="'Liberation Sans', Arial, sans-serif" font-size="10.3" fill="#000" stroke="#000" stroke-width="0.3" text-anchor="start" font-weight="normal" textLength="68" lengthAdjust="spacingAndGlyphs">RSI(14) 35.0804</text>
<text x="1164" y="448.5" font-family="'Liberation Sans', Arial, sans-serif" font-size="10.3" fill="#000" stroke="#000" stroke-width="0.3" text-anchor="start" font-weight="normal" textLength="15" lengthAdjust="spacingAndGlyphs">100</text>
<text x="1164" y="485" font-family="'Liberation Sans', Arial, sans-serif" font-size="10.3" fill="#000" stroke="#000" stroke-width="0.3" text-anchor="start" font-weight="normal" textLength="10" lengthAdjust="spacingAndGlyphs">70</text>
<text x="1164" y="541" font-family="'Liberation Sans', Arial, sans-serif" font-size="10.3" fill="#000" stroke="#000" stroke-width="0.3" text-anchor="start" font-weight="normal" textLength="10" lengthAdjust="spacingAndGlyphs">30</text>
<text x="1164" y="576" font-family="'Liberation Sans', Arial, sans-serif" font-size="10.3" fill="#000" stroke="#000" stroke-width="0.3" text-anchor="start" font-weight="normal" textLength="5" lengthAdjust="spacingAndGlyphs">0</text>
<polyline fill="none" stroke="#1E90FF" stroke-width="1" points="2.5,468 6,469.75 10,469.25 15,481.75 20,485.5 24,485 27.5,489.25 31,505 35,493.5 39,500.5 44,496.75 47.5,488.5 51,491.75 55,493.5 64,488.5 69,476 71,475 76,465.5 79.5,470 82.5,468.5 87.5,478.5 91,481 99,477.5 104,474.25 110,468.5 115,473 122.5,466.75 127.5,470 132.5,473 136,472.5 140,474.25 146,474.25 151,472.25 156,476.75 160,475.5 165,470 171,461.75 175,461 179,459.25 184,462.5 190,456.75 195,453 199.5,466.25 204,461.75 207.5,468.5 215,465 226,462.25 231,458.5 235,466 240,489.25 247.5,489.25 255,538.5 259,525.5 264,521.75 267.5,535 275,521.75 279,521 291,508 300,514.25 304,516 309,513.5 315.5,498.5 320,503.5 326,519.25 331,521.25 336,513 344,516 347.5,513.5 351,503.5 355,505.5 364,516.25 371,510.5 375.5,519.25 380,515.5 384,516 387.5,528.5 391,535 395,519.25 400,525 404,523 407.5,516.75 411,524.25 419,513 423,508.5 427.5,517.25 431,515.5 435,510 439,513 443,507.25 447.5,510.5 456,502.25 462.5,504.25 467.5,510.5 471,510.5 475,518 479.5,518 484,511.25 489,511.25 500,520 503,520 509,510 515,508 525,497.5 531,495.5 535,502.25 540,499.25 545,501.25 551,492.5 555,500 559,498.75 566,503 571,517.5 575,506.75 579,513.5 589,502.5 591,503.5 595,495.5 600,491.25 605,490 610,489.75 615,495 620,497.5 626,504.25 631,515.5 635,516.75 639.5,524.25 643,517.5 647.5,526 651,526.25 655.5,528.75 660,526.75 664,521.25 669,523 672.5,525.5 675,524.25 679,518.5 684,513 687.5,500.5 691,496.75 695,504.25 700,497.5 705,495 710,493 715,489.75 719.5,496 726,497.25 732.5,490 739,483 744,489.25 747.5,495.5 751,491.25 755,494.25 759,495.5 765,491 769,489.75 772,484.25 776,486.75 781,498 787,510.5 791,505.5 795,512.5 799,496.75 805,491 811,488 815,491.25 819.5,498.5 824,491.75 827.5,485.5 831,485 835,483 839.5,491 844,491.75 847.5,490 851,496.75 855,495.5 859,492.5 864,498.5 867.5,501.25 871,497.5 876,495 881,489.25 884,489.25 887.5,497.25 892.5,486.75 900,476.75 903,474.25 906,483 911,489.25 915,496 919,493.5 924,494.25 929,486.75 932.5,481.75 935,481.75 940,495 944,501.75 947.5,500.5 951,503 955,525.5 959.5,540 964,531 967.5,532.5 972,516.75 975,518.5 979.5,526 984,521.75 990,526 995,536.25 999.5,526.75 1004,530.5 1007.5,535 1011,521.75 1015,516.75 1019.5,511.75 1023,514.25 1027.5,508.75 1031,506 1036,496.75 1041,497.25 1044,499.25 1047.5,513.5 1051,514.25 1055.5,519.25 1060,513 1064,511.75 1071,528 1075,527.25 1079,528.75 1084,530 1087.5,520 1091,518.5 1095,505 1100,504.25 1104,502.5 1107,497.25 1111,511.75 1115,510.5 1119,514.25 1124,523 1126,522.5 1130,523 1136,518.5 1140,518.5 1147.5,535.5 1151,531.25"/>
<rect x="3" y="580" width="1" height="3" fill="#000"/>
<text x="1.5" y="592" font-family="'Liberation Sans', Arial, sans-serif" font-size="10.3" fill="#000" stroke="#000" stroke-width="0.3" text-anchor="start" font-weight="normal" textLength="49.1" lengthAdjust="spacingAndGlyphs">6 Nov 2017</text>
<rect x="67" y="580" width="1" height="3" fill="#000"/>
<text x="66" y="592" font-family="'Liberation Sans', Arial, sans-serif" font-size="10.3" fill="#000" stroke="#000" stroke-width="0.3" text-anchor="start" font-weight="normal" textLength="54.2" lengthAdjust="spacingAndGlyphs">28 Nov 2017</text>
<rect x="131" y="580" width="1" height="3" fill="#000"/>
<text x="130" y="592" font-family="'Liberation Sans', Arial, sans-serif" font-size="10.3" fill="#000" stroke="#000" stroke-width="0.3" text-anchor="start" font-weight="normal" textLength="51.6" lengthAdjust="spacingAndGlyphs">20 Dec 2017</text>
<rect x="195" y="580" width="1" height="3" fill="#000"/>
<text x="194" y="592" font-family="'Liberation Sans', Arial, sans-serif" font-size="10.3" fill="#000" stroke="#000" stroke-width="0.3" text-anchor="start" font-weight="normal" textLength="50.3" lengthAdjust="spacingAndGlyphs">15 Jan 2018</text>
<rect x="259" y="580" width="1" height="3" fill="#000"/>
<text x="258" y="592" font-family="'Liberation Sans', Arial, sans-serif" font-size="10.3" fill="#000" stroke="#000" stroke-width="0.3" text-anchor="start" font-weight="normal" textLength="48.3" lengthAdjust="spacingAndGlyphs">6 Feb 2018</text>
<rect x="323" y="580" width="1" height="3" fill="#000"/>
<text x="322" y="592" font-family="'Liberation Sans', Arial, sans-serif" font-size="10.3" fill="#000" stroke="#000" stroke-width="0.3" text-anchor="start" font-weight="normal" textLength="51.6" lengthAdjust="spacingAndGlyphs">28 Feb 2018</text>
<rect x="387" y="580" width="1" height="3" fill="#000"/>
<text x="386" y="592" font-family="'Liberation Sans', Arial, sans-serif" font-size="10.3" fill="#000" stroke="#000" stroke-width="0.3" text-anchor="start" font-weight="normal" textLength="52.0" lengthAdjust="spacingAndGlyphs">22 Mar 2018</text>
<rect x="451" y="580" width="1" height="3" fill="#000"/>
<text x="450" y="592" font-family="'Liberation Sans', Arial, sans-serif" font-size="10.3" fill="#000" stroke="#000" stroke-width="0.3" text-anchor="start" font-weight="normal" textLength="51.3" lengthAdjust="spacingAndGlyphs">16 Apr 2018</text>
<rect x="515" y="580" width="1" height="3" fill="#000"/>
<text x="514" y="592" font-family="'Liberation Sans', Arial, sans-serif" font-size="10.3" fill="#000" stroke="#000" stroke-width="0.3" text-anchor="start" font-weight="normal" textLength="49.9" lengthAdjust="spacingAndGlyphs">8 May 2018</text>
<rect x="579" y="580" width="1" height="3" fill="#000"/>
<text x="578" y="592" font-family="'Liberation Sans', Arial, sans-serif" font-size="10.3" fill="#000" stroke="#000" stroke-width="0.3" text-anchor="start" font-weight="normal" textLength="55.8" lengthAdjust="spacingAndGlyphs">31 May 2018</text>
<rect x="643" y="580" width="1" height="3" fill="#000"/>
<text x="642" y="592" font-family="'Liberation Sans', Arial, sans-serif" font-size="10.3" fill="#000" stroke="#000" stroke-width="0.3" text-anchor="start" font-weight="normal" textLength="50.5" lengthAdjust="spacingAndGlyphs">22 Jun 2018</text>
<rect x="707" y="580" width="1" height="3" fill="#000"/>
<text x="706" y="592" font-family="'Liberation Sans', Arial, sans-serif" font-size="10.3" fill="#000" stroke="#000" stroke-width="0.3" text-anchor="start" font-weight="normal" textLength="47.5" lengthAdjust="spacingAndGlyphs">16 Jul 2018</text>
<rect x="771" y="580" width="1" height="3" fill="#000"/>
<text x="770" y="592" font-family="'Liberation Sans', Arial, sans-serif" font-size="10.3" fill="#000" stroke="#000" stroke-width="0.3" text-anchor="start" font-weight="normal" textLength="48.5" lengthAdjust="spacingAndGlyphs">7 Aug 2018</text>
<rect x="835" y="580" width="1" height="3" fill="#000"/>
<text x="834" y="592" font-family="'Liberation Sans', Arial, sans-serif" font-size="10.3" fill="#000" stroke="#000" stroke-width="0.3" text-anchor="start" font-weight="normal" textLength="53.3" lengthAdjust="spacingAndGlyphs">29 Aug 2018</text>
<rect x="899" y="580" width="1" height="3" fill="#000"/>
<text x="898" y="592" font-family="'Liberation Sans', Arial, sans-serif" font-size="10.3" fill="#000" stroke="#000" stroke-width="0.3" text-anchor="start" font-weight="normal" textLength="52.8" lengthAdjust="spacingAndGlyphs">20 Sep 2018</text>
<rect x="963" y="580" width="1" height="3" fill="#000"/>
<text x="962" y="592" font-family="'Liberation Sans', Arial, sans-serif" font-size="10.3" fill="#000" stroke="#000" stroke-width="0.3" text-anchor="start" font-weight="normal" textLength="51.3" lengthAdjust="spacingAndGlyphs">12 Oct 2018</text>
<rect x="1027" y="580" width="1" height="3" fill="#000"/>
<text x="1026" y="592" font-family="'Liberation Sans', Arial, sans-serif" font-size="10.3" fill="#000" stroke="#000" stroke-width="0.3" text-anchor="start" font-weight="normal" textLength="49.5" lengthAdjust="spacingAndGlyphs">5 Nov 2018</text>
<rect x="1091" y="580" width="1" height="3" fill="#000"/>
<text x="1090" y="592" font-family="'Liberation Sans', Arial, sans-serif" font-size="10.3" fill="#000" stroke="#000" stroke-width="0.3" text-anchor="start" font-weight="normal" textLength="54.5" lengthAdjust="spacingAndGlyphs">27 Nov 2018</text>
</svg>

<svg class="ov" width="260" height="80" viewBox="0 0 260 80">
  <path d="M6 13.5 L9.5 9 L13 13.5 Z" fill="#000"/>
  <text x="18" y="14" font-family="'Liberation Sans', Arial, sans-serif" font-size="10" stroke="#000" stroke-width="0.3" textLength="68" lengthAdjust="spacingAndGlyphs">US30Cash,Daily</text>
  <text x="93.5" y="14" font-family="'Liberation Sans', Arial, sans-serif" font-size="10" stroke="#000" stroke-width="0.3" textLength="108.5" lengthAdjust="spacingAndGlyphs">23700 23750 23650 23734</text>
  <defs>
    <linearGradient id="gp" gradientUnits="userSpaceOnUse" x1="0" y1="20" x2="0" y2="76">
      <stop offset="0" stop-color="#5c5cff"/>
      <stop offset="0.38" stop-color="#2e2ee8"/>
      <stop offset="1" stop-color="#0000b0"/>
    </linearGradient>
    <linearGradient id="gbtn" x1="0" y1="0" x2="0" y2="1">
      <stop offset="0" stop-color="#f2f2f2"/>
      <stop offset="0.5" stop-color="#ebebeb"/>
      <stop offset="0.5" stop-color="#dddddd"/>
      <stop offset="1" stop-color="#cfcfcf"/>
    </linearGradient>
  </defs>
  <rect x="4" y="17" width="191" height="61" fill="#fff"/>
  <!-- SELL -->
  <path d="M6 20 H50 V42 H99 V76 H6 Z" fill="url(#gp)"/>
  <path d="M6.5 20.5 H49.5 V42.5 H98.5 V75.5 H6.5 Z" fill="none" stroke="#0000a8" stroke-width="1"/>
  <rect x="10" y="41" width="36" height="1" fill="#10108c"/><rect x="10" y="42" width="36" height="1" fill="#9a9aff"/>
  <text x="15.3" y="35" font-family="'Liberation Sans', Arial, sans-serif" font-size="12.3" fill="#e6e6ff" textLength="23.4" lengthAdjust="spacingAndGlyphs">SELL</text>
  <text x="28.7" y="69.3" font-family="'Liberation Sans', Arial, sans-serif" font-size="12.2" font-weight="bold" fill="#fff" textLength="19.3" lengthAdjust="spacingAndGlyphs">237</text>
  <text x="53.5" y="69.3" font-family="'Liberation Sans', Arial, sans-serif" font-size="31.5" fill="#fff" textLength="31.5" lengthAdjust="spacingAndGlyphs">34</text>
  <!-- BUY -->
  <path d="M149 20 H193 V76 H101 V42 H149 Z" fill="url(#gp)"/>
  <path d="M149.5 20.5 H192.5 V75.5 H101.5 V42.5 H149.5 Z" fill="none" stroke="#0000a8" stroke-width="1"/>
  <rect x="153" y="41" width="36" height="1" fill="#10108c"/><rect x="153" y="42" width="36" height="1" fill="#9a9aff"/>
  <text x="159.3" y="35" font-family="'Liberation Sans', Arial, sans-serif" font-size="12.3" fill="#e6e6ff" textLength="21.2" lengthAdjust="spacingAndGlyphs">BUY</text>
  <text x="122.5" y="69.6" font-family="'Liberation Sans', Arial, sans-serif" font-size="12.2" font-weight="bold" fill="#fff" textLength="20" lengthAdjust="spacingAndGlyphs">237</text>
  <text x="146.5" y="69.6" font-family="'Liberation Sans', Arial, sans-serif" font-size="31.5" fill="#fff" textLength="33.5" lengthAdjust="spacingAndGlyphs">44</text>
  <!-- combo -->
  <rect x="52.5" y="20.5" width="94" height="19" fill="#fff" stroke="#a8a8a8" stroke-width="1"/>
  <rect x="54" y="21" width="17" height="18" fill="url(#gbtn)"/>
  <rect x="71" y="21" width="1" height="18" fill="#c0c0c0"/>
  <rect x="128" y="21" width="18" height="18" fill="url(#gbtn)"/>
  <rect x="127" y="21" width="1" height="18" fill="#c0c0c0"/>
  <path d="M58.5 28 L64.5 28 L61.5 31.2 Z" fill="#4a5acb"/>
  <path d="M134 31 L140 31 L137 27.8 Z" fill="#4a5acb"/>
  <text x="101.4" y="33.8" font-family="'Liberation Sans', Arial, sans-serif" font-size="11.8" fill="#000" textLength="20.6" lengthAdjust="spacingAndGlyphs">1.00</text>
</svg>

</div></body></html>
